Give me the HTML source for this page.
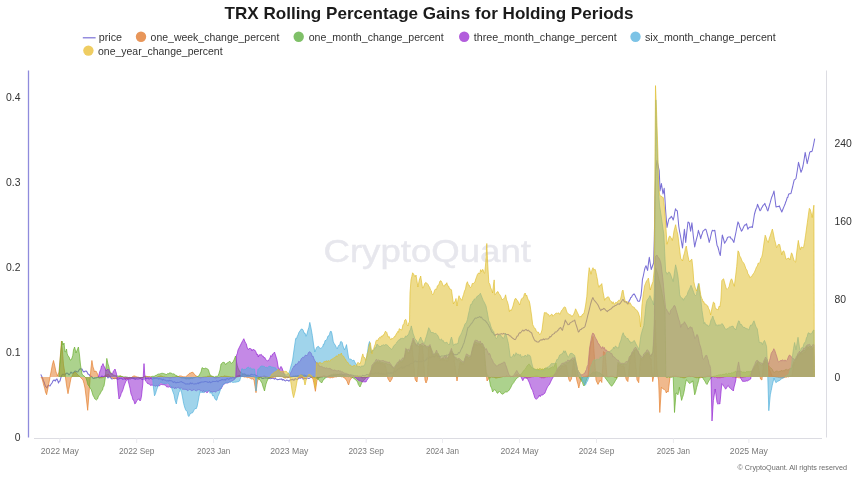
<!DOCTYPE html>
<html lang="en"><head><meta charset="utf-8"><title>TRX Rolling Percentage Gains for Holding Periods</title>
<style>
html,body{margin:0;padding:0;background:#fff;}
body{width:860px;height:482px;overflow:hidden;font-family:"Liberation Sans",sans-serif;}
svg{display:block;}
svg text{font-family:"Liberation Sans",sans-serif;}
.title{font-weight:700;font-size:16.6px;fill:#1b1b1b;}
.leg text{font-size:11.6px;fill:#333;}
.xl text{font-size:9.6px;fill:#7a7a7a;}
.yl text{font-size:10.4px;fill:#333;}
.wm{font-size:32px;fill:#e7e7ed;stroke:#e7e7ed;stroke-width:0.45px;}
.copy{font-size:7.6px;fill:#6a6a6a;}
</style></head><body>
<svg width="860" height="482" viewBox="0 0 860 482">
<rect width="860" height="482" fill="#ffffff"/>
<text class="title" x="224.5" y="19.2" textLength="409" lengthAdjust="spacingAndGlyphs">TRX Rolling Percentage Gains for Holding Periods</text>
<g class="leg">
<line x1="82.8" y1="37.8" x2="95.6" y2="37.8" stroke="#7a70d6" stroke-width="1.2"/>
<text x="98.7" y="41.2" textLength="23.3" lengthAdjust="spacingAndGlyphs">price</text>
<circle cx="141.0" cy="36.8" r="5.2" fill="#e8965a"/><text x="150.6" y="41.2" textLength="128.7" lengthAdjust="spacingAndGlyphs">one_week_change_percent</text>
<circle cx="298.7" cy="36.8" r="5.2" fill="#7fc068"/><text x="308.7" y="41.2" textLength="135.0" lengthAdjust="spacingAndGlyphs">one_month_change_percent</text>
<circle cx="464.2" cy="36.8" r="5.2" fill="#b25ddc"/><text x="473.7" y="41.2" textLength="143.0" lengthAdjust="spacingAndGlyphs">three_month_change_percent</text>
<circle cx="635.5" cy="36.8" r="5.2" fill="#7cc3e6"/><text x="645.0" y="41.2" textLength="130.7" lengthAdjust="spacingAndGlyphs">six_month_change_percent</text>
<circle cx="88.4" cy="50.6" r="5.2" fill="#efcd62"/><text x="98.0" y="55.0" textLength="124.6" lengthAdjust="spacingAndGlyphs">one_year_change_percent</text>
</g>
<text class="wm" x="323.5" y="262" textLength="207.5" lengthAdjust="spacingAndGlyphs">CryptoQuant</text>
<defs><filter id="soft" x="-2%" y="-2%" width="104%" height="104%"><feGaussianBlur stdDeviation="0.35"/></filter></defs>
<g class="plot" filter="url(#soft)">
<path d="M40.8,374.4L42.0,377.0L42.8,378.7L43.5,381.0L44.2,382.2L44.9,384.8L45.6,386.4L47.0,388.0L47.8,385.8L48.5,385.0L49.2,385.6L50.0,386.0L51.0,384.3L52.0,383.0L53.0,380.8L54.0,380.0L54.8,380.5L55.5,381.0L56.2,379.3L57.0,379.0L57.8,380.9L58.5,383.0L59.2,381.3L60.0,381.0L60.8,377.8L61.5,376.0L62.2,374.9L63.0,374.0L64.0,375.0L65.0,375.0L66.0,373.4L67.0,373.0L68.0,373.6L69.0,375.0L70.0,373.7L71.0,372.0L72.0,373.2L73.0,373.0L74.0,372.1L75.0,371.0L76.0,371.3L77.0,372.0L78.0,371.8L79.0,370.0L80.0,368.8L81.0,369.0L82.0,369.0L83.0,371.1L84.0,372.0L85.0,371.2L86.0,371.0L87.0,371.9L88.0,374.0L89.0,374.4L90.0,376.0L91.0,376.2L92.0,377.0L93.0,378.3L94.0,378.5L95.0,377.7L96.0,378.0L97.0,377.6L98.0,377.0L99.0,377.7L100.0,378.0L101.0,376.8L102.0,376.0L103.0,376.6L104.0,377.0L105.0,375.8L106.0,376.0L107.0,376.3L108.0,378.0L109.0,377.0L110.0,377.0L111.0,378.3L112.0,379.0L112.8,378.6L113.5,378.2L114.2,378.4L115.0,378.0L115.8,378.2L116.5,378.2L117.2,379.2L118.0,379.0L118.8,379.1L119.5,378.1L120.2,378.4L121.0,378.0L121.8,378.3L122.5,379.1L123.2,379.1L124.0,379.0L124.8,378.5L125.5,379.5L126.2,378.0L127.0,378.5L127.8,378.5L128.5,379.2L129.2,378.3L130.0,379.0L130.8,378.7L131.5,377.8L132.2,378.5L133.0,378.0L133.8,378.7L134.5,378.6L135.2,379.4L136.0,379.0L136.8,378.6L137.6,379.1L138.4,378.9L139.2,378.7L140.0,378.5L140.8,378.5L141.6,379.2L142.4,379.5L143.2,378.9L144.0,379.0L144.8,379.1L145.6,377.9L146.4,378.7L147.2,378.4L148.0,378.0L148.8,379.0L149.6,378.9L150.4,378.3L151.2,378.6L152.0,379.0L152.8,379.2L153.6,378.0L154.4,378.6L155.2,378.1L156.0,378.5L156.8,378.0L157.6,378.0L158.4,379.2L159.2,378.3L160.0,379.0L160.8,378.8L161.6,379.2L162.4,380.2L163.2,379.1L164.0,380.0L164.8,380.0L165.6,380.3L166.4,380.9L167.2,380.9L168.0,380.5L168.8,381.2L169.6,380.3L170.4,380.7L171.2,380.7L172.0,381.0L172.8,382.0L173.6,382.5L174.4,381.6L175.2,382.1L176.0,383.0L176.8,382.4L177.6,382.2L178.4,382.4L179.2,382.3L180.0,382.0L180.8,381.8L181.6,381.6L182.4,382.5L183.2,382.6L184.0,383.0L184.8,383.3L185.6,384.1L186.4,383.9L187.2,383.8L188.0,384.0L188.8,384.0L189.6,383.9L190.4,382.7L191.2,383.8L192.0,383.0L192.8,383.6L193.6,384.0L194.4,384.1L195.2,383.6L196.0,384.0L196.8,383.6L197.6,383.0L198.4,383.6L199.2,382.5L200.0,383.0L200.8,382.1L201.6,382.1L202.4,381.9L203.2,381.9L204.0,382.0L204.8,381.4L205.6,381.4L206.4,381.7L207.2,381.8L208.0,382.5L208.8,382.2L209.6,381.5L210.4,382.8L211.2,382.3L212.0,382.0L212.8,381.3L213.6,381.4L214.4,381.5L215.2,381.4L216.0,381.5L216.8,380.7L217.6,381.7L218.4,381.7L219.2,380.6L220.0,380.5L220.8,380.4L221.6,379.6L222.4,379.6L223.2,379.8L224.0,380.0L224.8,379.4L225.6,380.1L226.4,378.9L227.2,378.4L228.0,379.0L228.8,379.5L229.6,378.6L230.4,377.8L231.2,378.3L232.0,378.0L232.8,377.0L233.6,377.6L234.4,378.2L235.2,377.8L236.0,377.0L236.8,377.0L237.6,376.0L238.4,375.9L239.2,375.3L240.0,375.5L240.8,375.6L241.6,375.0L242.4,375.0L243.2,374.0L244.0,374.0L244.8,373.8L245.6,374.9L246.4,375.4L247.2,375.4L248.0,375.0L248.8,375.4L249.6,375.3L250.4,375.1L251.2,374.2L252.0,374.5L252.8,374.8L253.6,374.9L254.4,374.6L255.2,374.9L256.0,376.0L256.8,375.8L257.6,376.0L258.4,376.9L259.2,377.5L260.0,377.0L260.8,377.1L261.6,378.1L262.4,378.4L263.2,378.5L264.0,378.0L264.8,377.9L265.6,377.8L266.4,377.9L267.2,377.9L268.0,378.5L268.8,377.9L269.6,378.5L270.4,378.8L271.2,378.6L272.0,378.0L272.8,378.2L273.6,378.6L274.4,379.1L275.2,378.1L276.0,379.0L276.8,379.3L277.6,379.7L278.4,379.5L279.2,379.4L280.0,379.0L280.8,379.2L281.6,378.9L282.4,380.1L283.2,379.5L284.0,380.0L284.8,380.6L285.6,381.0L286.4,380.1L287.2,380.2L288.0,380.5L288.8,381.1L289.6,380.7L290.4,379.7L291.2,379.5L292.0,380.0L292.8,379.2L293.6,380.2L294.4,379.9L295.2,378.6L296.0,379.0L296.8,379.3L297.6,379.4L298.4,378.7L299.2,378.0L300.0,378.0L300.8,378.2L301.6,377.6L302.4,377.5L303.2,379.2L304.0,378.5L304.8,378.6L305.6,378.3L306.4,378.9L307.2,378.0L308.0,378.0L308.8,378.5L309.6,378.3L310.4,377.2L311.2,377.2L312.0,377.5L312.8,377.3L313.6,377.3L314.4,377.9L315.2,377.5L316.0,378.0L316.8,377.7L317.6,377.0L318.4,378.1L319.2,377.0L320.0,377.0L320.8,376.7L321.6,376.7L322.4,377.0L323.2,376.1L324.0,376.0L324.8,376.9L325.6,376.4L326.4,376.7L327.2,376.8L328.0,377.0L328.8,376.0L329.6,376.5L330.4,375.9L331.2,375.4L332.0,376.0L332.8,376.3L333.6,375.1L334.4,375.4L335.2,375.6L336.0,375.0L336.8,374.9L337.6,374.3L338.4,374.4L339.2,374.3L340.0,374.0L340.8,374.7L341.6,373.8L342.4,374.7L343.2,374.4L344.0,375.0L344.8,374.5L345.6,375.2L346.4,374.7L347.2,374.7L348.0,374.5L348.8,375.0L349.6,375.4L350.4,374.7L351.2,375.1L352.0,375.0L352.8,375.2L353.6,375.4L354.4,375.9L355.2,375.7L356.0,376.0L356.8,376.1L357.6,376.0L358.4,376.7L359.2,376.3L360.0,376.0L360.8,376.5L361.6,376.5L362.4,375.3L363.2,375.7L364.0,375.5L364.8,376.1L365.6,375.8L366.4,374.6L367.2,374.5L368.0,375.0L368.8,374.7L369.6,373.9L370.4,374.0L371.2,373.5L372.0,374.0L372.8,374.1L373.6,374.1L374.4,374.0L375.2,372.6L376.0,373.0L376.8,373.4L377.6,373.5L378.4,372.7L379.2,374.0L380.0,373.5L380.8,374.3L381.6,373.3L382.4,374.5L383.2,373.7L384.0,374.0L384.8,373.8L385.6,374.4L386.4,373.9L387.2,372.7L388.0,373.0L388.8,373.0L389.6,373.2L390.4,373.0L391.2,372.9L392.0,373.5L392.8,372.7L393.6,372.9L394.4,371.2L395.2,371.6L396.0,371.0L396.8,370.3L397.6,369.0L398.4,368.9L399.2,368.8L400.0,368.0L400.8,367.8L401.6,366.9L402.4,368.2L403.2,367.7L404.0,367.0L404.8,367.6L405.6,366.0L406.4,366.0L407.2,365.5L408.0,366.0L408.8,365.8L409.6,364.4L410.4,363.6L411.2,363.5L412.0,363.0L412.8,363.3L413.6,362.7L414.4,361.4L415.2,360.8L416.0,361.0L416.8,361.9L417.6,361.5L418.4,361.9L419.2,361.1L420.0,362.0L420.8,361.1L421.6,361.9L422.4,361.3L423.2,360.5L424.0,361.0L424.8,361.1L425.6,360.0L426.4,359.7L427.2,357.9L428.0,358.0L428.8,358.4L429.6,356.9L430.4,358.0L431.2,357.1L432.0,357.0L432.8,356.5L433.6,356.7L434.4,357.1L435.2,355.8L436.0,356.0L436.8,355.6L437.6,356.4L438.4,356.2L439.2,356.2L440.0,357.0L440.8,356.3L441.6,355.9L442.4,355.9L443.2,355.9L444.0,356.0L444.8,355.5L445.6,356.0L446.4,355.1L447.2,355.2L448.0,355.0L448.8,354.3L449.6,354.4L450.4,353.6L451.2,353.8L452.0,354.0L452.8,353.4L453.6,354.8L454.4,354.7L455.2,354.3L456.0,355.0L456.8,354.4L457.6,354.5L458.4,352.6L459.2,353.1L460.0,352.0L460.8,350.1L461.6,348.4L462.4,347.1L463.2,344.6L464.0,343.0L464.8,339.9L465.6,337.1L466.4,334.5L467.2,330.3L468.0,327.5L468.8,327.1L469.6,326.0L470.4,325.0L471.2,323.7L472.0,323.0L472.8,321.8L473.5,320.3L474.3,319.4L475.0,318.3L475.8,318.0L476.7,318.2L477.6,317.3L478.5,317.5L479.2,316.8L479.9,316.6L480.7,317.7L481.4,317.0L482.3,318.6L483.1,319.3L484.0,320.0L484.8,320.4L485.5,321.0L486.2,321.8L487.0,322.8L487.7,324.0L488.4,324.7L489.1,326.4L489.8,327.4L490.5,329.0L491.3,330.9L492.1,332.2L492.8,332.7L493.6,333.4L494.4,335.0L495.1,335.6L495.8,334.5L496.6,334.5L497.3,333.8L498.0,334.5L498.8,334.2L499.6,334.3L500.4,334.2L501.2,333.6L502.0,334.0L502.8,334.1L503.6,333.4L504.4,333.9L505.2,333.7L506.0,334.5L506.8,334.6L507.6,334.4L508.4,334.6L509.2,335.4L510.0,336.0L510.7,336.1L511.4,337.2L512.1,337.6L512.9,338.5L513.6,338.8L514.3,339.4L515.0,339.6L515.7,339.1L516.5,337.2L517.2,336.0L518.0,335.9L518.7,334.0L519.5,332.7L520.4,332.9L521.2,332.0L522.0,331.0L522.8,330.0L523.6,330.9L524.4,330.7L525.2,329.9L526.0,329.4L526.8,330.2L527.5,330.7L528.2,330.0L529.0,331.0L529.9,331.7L530.8,332.3L531.7,333.0L532.6,335.9L533.6,338.2L534.5,340.0L535.2,340.9L535.9,340.9L536.6,341.8L537.3,341.9L538.0,342.0L538.8,341.9L539.6,340.8L540.4,340.0L541.2,339.8L542.0,340.0L542.8,339.5L543.5,338.9L544.2,339.8L545.0,339.0L545.7,339.0L546.4,339.1L547.1,339.0L547.8,339.0L548.5,338.7L549.2,337.9L549.9,336.4L550.6,337.0L551.3,336.1L552.0,335.0L552.8,334.4L553.6,333.9L554.4,333.5L555.2,331.9L556.0,332.0L556.8,331.7L557.7,330.3L558.5,330.0L559.2,328.5L560.0,328.0L560.7,327.5L561.6,329.3L562.5,330.3L563.2,327.2L564.0,325.0L565.3,320.0L566.0,321.6L566.7,322.5L568.0,324.7L569.0,324.6L570.0,323.0L571.0,322.4L571.9,321.9L572.6,321.2L573.3,320.9L574.0,320.8L574.7,320.0L575.6,323.4L576.5,326.0L577.5,329.2L578.4,332.0L579.1,331.6L579.8,330.0L580.5,329.5L581.2,329.4L582.1,328.3L583.0,328.0L584.0,327.6L585.0,326.5L585.8,323.4L586.5,321.0L587.8,315.3L588.5,312.8L589.2,310.0L590.6,304.0L591.8,300.0L592.8,297.6L594.0,300.0L595.2,301.3L596.6,303.0L598.0,305.0L599.4,308.0L600.8,310.7L601.8,309.3L602.7,309.5L603.7,308.4L604.6,308.8L606.0,310.5L607.4,311.6L608.1,310.5L608.8,310.5L609.5,309.5L610.3,309.3L611.2,308.7L612.0,307.9L612.8,306.9L613.7,306.7L614.5,306.0L615.2,305.6L616.0,305.3L616.7,305.0L617.6,303.9L618.5,304.0L619.5,304.2L620.4,303.2L621.8,301.0L622.5,299.8L623.2,299.5L624.0,301.1L624.7,301.9L625.5,302.0L626.3,301.9L627.1,303.3L627.9,304.0L629.3,300.5L630.0,299.6L630.7,297.6L631.5,297.3L632.3,295.5L633.1,294.6L634.0,293.9L635.0,295.3L636.0,297.5L636.7,298.3L637.5,300.7L638.2,301.3L639.6,301.2L641.0,295.7L641.8,288.0L642.4,279.7L643.3,276.0L644.5,270.0L645.2,267.4L646.0,265.7L646.8,268.2L647.6,270.4L648.5,263.0L649.3,257.3L650.3,264.0L651.2,269.5L652.5,266.0L653.6,263.0L654.3,240.0L655.0,200.0L655.8,170.0L657.0,160.3L658.2,166.0L659.2,170.5L659.7,182.0L660.0,191.0L661.4,183.6L663.0,193.9L664.2,188.3L665.0,200.0L665.7,211.6L667.0,227.5L668.0,222.7L668.9,219.0L669.7,218.1L670.5,217.9L671.3,216.3L672.2,217.6L673.2,220.0L674.0,216.8L674.7,212.5L675.5,208.8L676.4,210.4L677.3,210.7L678.8,226.5L679.6,231.6L680.5,236.0L682.5,248.0L683.5,238.0L684.4,229.3L685.7,242.4L686.8,232.0L688.0,222.0L689.3,223.0L690.6,231.2L691.9,222.8L693.3,236.0L694.7,247.0L695.6,242.6L696.5,239.0L697.5,235.3L698.4,230.3L699.2,233.1L699.9,235.1L700.7,238.7L701.5,235.4L702.2,233.7L703.0,231.2L703.7,230.6L704.5,229.9L705.2,229.2L705.9,229.3L706.7,231.9L707.5,235.0L708.4,238.4L709.2,242.4L710.0,239.7L710.8,236.0L711.6,232.4L712.4,230.3L713.2,230.7L714.0,230.8L714.8,230.3L717.0,245.2L717.9,247.0L718.7,250.0L719.5,253.4L720.3,255.5L721.3,245.0L722.3,235.0L723.5,239.0L724.6,243.3L725.5,241.8L726.5,240.2L727.4,237.7L728.1,237.1L728.8,237.0L729.5,236.9L730.2,236.8L731.1,238.7L732.0,239.0L733.0,240.8L733.9,242.4L734.6,238.7L735.3,235.4L736.0,232.0L737.0,226.6L738.0,221.9L738.9,223.7L739.7,227.0L740.5,228.5L741.4,231.2L742.3,230.1L743.2,228.0L744.1,226.0L745.0,224.7L745.8,224.9L746.5,223.7L747.9,229.3L748.6,228.1L749.3,227.4L750.0,227.0L750.8,227.2L751.6,226.8L752.4,227.5L753.4,221.0L754.4,214.5L755.2,211.5L756.0,209.0L756.8,207.4L757.5,204.3L758.8,207.5L760.0,210.8L760.8,210.0L761.5,208.0L762.2,207.2L763.0,205.5L764.0,204.7L764.9,203.4L765.6,205.9L766.4,207.0L767.1,209.7L767.9,210.9L768.7,208.0L769.5,205.0L770.2,202.7L771.0,199.7L771.8,196.9L772.5,195.5L773.2,193.6L774.0,191.0L775.0,199.0L776.0,207.0L776.9,206.7L777.7,206.5L778.5,206.6L779.3,205.9L780.5,209.0L781.8,212.0L783.0,209.0L784.3,205.9L785.0,204.3L785.7,202.0L786.4,200.5L787.1,197.8L787.8,197.3L788.5,194.7L789.3,193.7L790.2,193.8L791.0,193.4L791.9,189.7L792.7,186.5L793.5,182.8L794.3,179.7L795.1,179.5L796.0,178.5L797.3,170.5L798.5,162.3L799.7,167.0L801.0,172.3L802.0,169.9L803.0,166.0L804.2,159.0L805.2,152.4L806.2,158.0L807.2,163.6L808.5,158.0L809.7,152.4L810.5,151.5L811.4,151.7L812.2,151.0L813.5,145.0L814.7,138.7" fill="none" stroke="#7a70d6" stroke-width="1.05" stroke-linejoin="round"/>
<path d="M41.0,377.0L41.0,377.0L41.8,378.4L42.5,380.0L43.2,383.1L44.0,386.0L44.8,388.8L45.5,392.0L46.6,394.7L48.0,388.0L48.8,383.6L49.5,380.0L50.2,375.8L51.0,372.0L52.3,365.0L53.5,360.5L54.8,366.0L56.0,372.0L56.8,373.7L57.5,376.0L58.2,374.3L59.0,372.0L60.0,360.0L61.5,341.0L62.5,352.0L63.5,365.0L65.0,374.0L66.5,385.0L67.2,389.3L68.0,393.7L68.8,389.3L69.5,386.0L70.2,382.4L71.0,378.0L72.0,376.3L73.0,374.0L74.0,373.0L75.0,372.0L76.0,372.6L77.0,374.0L78.0,374.8L79.0,376.0L80.0,376.8L81.0,378.0L82.0,378.9L83.0,380.0L84.0,383.5L85.0,388.0L86.5,400.0L87.7,410.3L88.8,396.0L90.0,380.0L91.0,368.0L91.9,360.5L93.0,367.0L93.8,369.1L94.5,372.0L95.2,371.2L96.0,371.0L96.8,372.6L97.5,374.0L98.2,375.8L99.0,377.0L99.8,377.4L100.5,377.5L101.2,377.7L102.0,378.0L102.8,377.5L103.5,376.9L104.2,376.4L105.0,376.0L105.8,375.2L106.5,374.8L107.2,374.9L108.0,374.0L108.8,374.5L109.5,375.5L110.2,376.3L111.0,377.0L111.8,377.7L112.5,377.8L113.2,378.3L114.0,379.0L114.8,378.6L115.5,378.4L116.2,378.2L117.0,378.0L117.8,377.8L118.5,377.2L119.2,376.7L120.0,376.0L120.8,376.0L121.5,376.2L122.2,376.9L123.0,377.0L123.8,377.7L124.5,378.0L125.2,378.6L126.0,379.0L126.8,378.4L127.6,378.5L128.4,378.7L129.2,378.4L130.0,378.0L130.8,377.8L131.6,377.4L132.4,376.7L133.2,376.2L134.0,376.0L134.8,376.0L135.6,376.4L136.4,376.7L137.2,377.0L138.0,377.0L138.8,377.3L139.6,377.5L140.4,377.8L141.2,377.8L142.0,378.0L142.8,377.6L143.6,377.0L144.4,376.9L145.2,376.2L146.0,376.0L146.8,376.5L147.6,376.5L148.4,376.5L149.2,376.6L150.0,377.0L150.8,377.0L151.7,377.4L152.5,377.6L153.3,377.4L154.2,377.6L155.0,378.0L155.8,377.7L156.7,377.4L157.5,376.9L158.3,376.5L159.2,376.4L160.0,376.0L160.8,375.9L161.7,376.2L162.5,376.5L163.3,376.9L164.2,376.9L165.0,377.0L165.8,377.4L166.7,377.3L167.5,377.4L168.3,377.5L169.2,378.1L170.0,378.0L170.8,378.0L171.7,377.6L172.5,377.2L173.3,377.3L174.2,377.3L175.0,377.0L175.8,376.8L176.7,376.5L177.5,376.6L178.3,376.6L179.2,376.0L180.0,376.0L180.8,375.9L181.7,376.2L182.5,376.5L183.3,376.8L184.2,376.7L185.0,377.0L185.8,376.7L186.5,376.1L187.2,375.5L188.0,375.0L189.0,373.7L190.0,373.0L191.0,373.0L192.0,372.0L193.0,372.6L194.0,373.5L195.0,375.0L196.0,376.0L196.8,376.2L197.6,376.7L198.4,377.3L199.2,377.5L200.0,378.0L200.8,378.1L201.7,377.7L202.5,377.3L203.3,377.2L204.2,377.1L205.0,377.0L205.8,376.9L206.7,376.9L207.5,376.3L208.3,376.3L209.2,376.0L210.0,376.0L210.8,376.6L211.7,376.5L212.5,376.8L213.3,377.1L214.2,377.6L215.0,378.0L215.8,378.1L216.7,377.9L217.5,377.6L218.3,377.6L219.2,377.4L220.0,377.0L220.8,376.7L221.7,376.5L222.5,376.7L223.3,376.5L224.2,375.9L225.0,376.0L225.8,376.3L226.7,376.3L227.5,376.4L228.3,376.6L229.2,376.7L230.0,377.0L230.8,376.9L231.7,377.2L232.5,377.4L233.3,377.9L234.2,377.6L235.0,378.0L235.8,377.9L236.7,377.2L237.5,376.9L238.3,376.8L239.2,376.5L240.0,376.0L240.8,376.1L241.7,376.1L242.5,376.5L243.3,376.6L244.2,377.1L245.0,377.0L245.8,377.0L246.7,377.3L247.5,377.7L248.3,377.4L249.2,377.8L250.0,378.0L250.8,378.6L251.6,379.0L252.4,378.8L253.2,379.2L254.0,380.0L256.0,392.7L257.5,381.0L258.3,379.3L259.2,378.6L260.0,377.0L260.8,376.7L261.7,376.8L262.5,376.7L263.3,376.2L264.2,376.0L265.0,376.0L265.8,376.6L266.7,376.7L267.5,376.9L268.3,377.5L269.2,377.6L270.0,378.0L270.8,377.7L271.7,377.4L272.5,377.6L273.3,377.6L274.2,377.2L275.0,377.0L275.8,377.1L276.7,376.4L277.5,376.4L278.3,376.3L279.2,376.4L280.0,376.0L280.8,376.6L281.7,376.6L282.5,376.9L283.3,377.3L284.2,377.7L285.0,378.0L285.8,378.1L286.7,377.5L287.5,377.7L288.3,377.5L289.2,377.3L290.0,377.0L290.8,377.0L291.7,376.7L292.5,376.4L293.3,376.2L294.2,376.1L295.0,376.0L295.8,376.5L296.7,376.4L297.5,376.8L298.3,377.5L299.2,377.5L300.0,378.0L300.8,377.6L301.7,377.4L302.5,377.5L303.3,377.2L304.2,377.4L305.0,377.0L305.8,377.0L306.7,376.9L307.5,376.4L308.3,376.1L309.2,375.9L310.0,376.0L310.8,376.7L311.5,377.6L312.2,378.2L313.0,379.0L313.8,382.8L314.6,387.1L315.4,391.3L317.0,380.0L317.8,379.3L318.5,378.6L319.2,377.9L320.0,377.0L320.8,377.0L321.7,376.8L322.5,376.3L323.3,376.5L324.2,376.0L325.0,376.0L325.8,376.4L326.7,376.6L327.5,377.1L328.3,377.2L329.2,377.5L330.0,378.0L330.8,377.7L331.7,377.5L332.5,377.7L333.3,377.4L334.2,377.1L335.0,377.0L335.8,376.8L336.7,376.9L337.5,376.5L338.3,376.2L339.2,376.4L340.0,376.0L340.8,376.4L341.7,376.9L342.5,376.8L343.3,377.3L344.2,377.9L345.0,378.0L346.0,379.8L347.0,381.0L347.8,383.5L348.6,385.0L350.0,380.0L350.8,378.9L351.5,378.4L352.2,377.5L353.0,377.0L353.8,376.7L354.7,376.9L355.5,376.5L356.3,376.6L357.2,376.1L358.0,376.0L358.8,376.5L359.7,376.6L360.5,376.9L361.3,377.5L362.2,377.9L363.0,378.0L363.8,377.6L364.7,377.7L365.5,377.6L366.3,377.2L367.2,377.1L368.0,377.0L368.8,375.0L369.7,373.3L370.5,371.6L371.3,370.3L372.2,368.7L373.0,366.8L373.8,365.4L374.5,365.0L375.2,363.2L376.0,363.4L376.8,362.7L377.5,362.7L378.2,363.3L379.0,363.2L379.8,362.7L380.5,363.6L381.2,363.3L382.0,363.9L382.8,363.4L383.5,364.2L384.2,364.9L385.0,364.5L385.8,368.2L386.5,371.2L387.2,375.1L388.0,379.0L389.0,380.4L390.0,382.0L391.0,380.5L392.0,379.0L393.0,374.8L394.0,370.4L394.8,368.8L395.5,368.3L396.2,366.8L397.0,366.3L397.8,365.7L398.5,364.3L399.2,363.5L400.0,363.1L400.8,362.3L401.5,362.5L402.2,361.7L403.0,361.9L403.8,361.1L404.5,358.1L405.2,354.2L406.0,351.6L406.8,352.5L407.5,353.0L408.2,352.9L409.0,353.8L409.8,351.9L410.5,350.5L411.2,349.0L412.0,345.2L415.0,379.0L416.0,381.0L417.0,382.0L419.5,346.9L420.2,346.4L421.0,346.7L421.8,345.9L422.5,347.0L425.0,380.0L426.0,383.0L426.8,381.2L427.5,379.0L428.5,348.5L429.2,347.1L430.0,347.5L430.8,348.2L431.5,352.1L432.2,355.3L433.0,356.0L433.8,356.0L434.5,356.4L435.2,356.1L436.0,353.9L436.8,354.1L437.5,355.0L438.2,357.6L439.0,358.0L439.8,359.2L440.5,360.6L441.2,359.5L442.0,360.2L442.8,358.8L443.5,359.8L444.2,360.0L445.0,359.9L445.8,360.5L446.5,360.3L447.2,361.2L448.0,360.1L448.8,357.0L449.5,356.3L450.2,354.8L451.0,352.5L451.8,352.9L452.5,354.1L453.2,356.4L454.0,358.7L457.0,381.0L460.0,362.3L460.8,362.2L461.5,363.6L462.2,363.7L463.0,364.8L463.8,363.7L464.5,362.5L465.2,361.4L466.0,358.1L466.8,356.8L467.5,357.7L468.2,358.2L469.0,358.8L469.8,359.5L470.5,358.6L471.2,357.2L472.0,352.9L472.8,349.4L473.5,347.9L474.2,344.7L475.0,343.8L475.8,345.4L476.5,344.1L477.2,345.8L478.0,344.4L478.8,344.5L479.5,344.7L480.2,343.8L481.0,345.8L481.8,347.8L482.5,347.0L483.2,347.5L484.0,348.8L487.0,381.0L488.0,379.8L489.0,378.0L489.8,377.8L490.5,377.7L491.2,377.1L492.0,377.0L492.8,377.3L493.7,377.2L494.5,377.4L495.3,377.9L496.2,378.0L497.0,378.0L497.8,377.6L498.7,377.5L499.5,377.4L500.3,377.3L501.2,377.1L502.0,377.0L502.8,376.6L503.7,376.5L504.5,376.6L505.3,376.6L506.2,375.9L507.0,376.0L507.8,376.2L508.5,376.4L509.2,376.1L510.0,376.5L510.8,376.7L511.5,376.5L512.2,376.3L513.0,376.5L513.8,376.6L514.5,376.5L515.2,375.6L516.0,374.7L516.8,374.7L517.5,374.5L518.2,375.3L519.0,376.5L519.8,376.3L520.5,376.3L521.2,376.1L522.0,376.0L522.8,376.4L523.7,376.6L524.5,377.0L525.3,377.1L526.2,377.7L527.0,378.0L527.8,377.8L528.7,377.5L529.5,377.6L530.3,377.5L531.2,377.1L532.0,377.0L532.8,376.7L533.7,376.7L534.5,376.3L535.3,376.1L536.2,376.1L537.0,376.0L537.8,376.1L538.7,376.6L539.5,377.0L540.3,377.1L541.2,377.7L542.0,378.0L542.8,377.6L543.7,377.8L544.5,377.7L545.3,377.3L546.2,376.9L547.0,377.0L547.8,376.8L548.7,376.6L549.5,376.8L550.3,376.1L551.2,376.4L552.0,376.0L552.8,375.8L553.7,375.1L554.5,374.7L555.3,373.7L556.2,373.8L557.0,372.9L557.8,371.6L558.5,370.3L559.2,370.1L560.0,368.6L560.8,368.6L561.5,367.3L562.2,366.3L563.0,366.3L563.8,366.5L564.5,365.6L565.2,366.1L566.0,364.9L566.8,368.0L567.5,372.3L568.2,376.4L569.0,380.0L570.0,381.6L570.8,380.0L571.5,379.0L573.5,361.0L574.4,366.7L575.2,370.7L576.1,376.2L577.0,381.0L577.9,384.0L578.8,388.0L579.6,384.5L580.5,381.0L581.3,380.0L582.2,378.1L583.0,377.0L583.8,376.7L584.7,376.7L585.5,376.4L586.3,376.1L587.2,376.0L588.0,376.0L590.0,348.7L590.8,343.8L591.5,341.1L592.2,340.1L593.0,336.4L596.0,380.0L597.0,382.4L598.0,384.4L599.0,382.6L600.0,380.0L600.9,380.9L601.8,382.5L603.5,351.4L604.2,352.8L605.0,352.4L607.0,377.0L607.8,376.6L608.7,376.7L609.5,376.6L610.3,376.3L611.2,376.4L612.0,376.0L612.8,376.4L613.7,376.7L614.5,377.2L615.3,377.1L616.2,378.0L617.0,378.0L618.0,363.8L618.8,364.7L619.5,365.1L620.2,365.1L621.0,365.6L621.8,366.4L622.5,366.1L623.2,365.8L624.0,366.4L626.0,379.0L627.0,380.7L627.9,381.6L630.0,359.0L630.8,357.7L631.5,356.0L632.2,354.3L633.0,353.4L633.8,353.3L634.5,351.6L637.0,380.0L637.9,381.3L638.7,382.7L640.5,358.2L641.2,358.3L642.0,360.2L642.8,359.7L643.5,358.0L644.2,355.6L645.0,355.9L645.8,356.0L646.5,354.1L647.2,353.1L648.0,353.7L648.8,355.3L649.5,356.0L650.2,358.6L651.0,358.5L652.7,381.6L654.0,375.0L654.6,350.0L655.3,320.0L656.0,345.0L657.0,370.0L658.0,377.0L658.6,380.0L659.8,412.5L661.4,387.3L662.2,388.1L663.1,388.9L663.9,389.2L664.7,390.1L665.5,390.6L666.3,393.0L667.2,391.4L668.2,392.0L670.0,377.0L670.8,376.6L671.6,376.7L672.4,376.4L673.2,376.2L674.0,376.0L674.8,376.4L675.7,376.1L676.5,376.3L677.3,376.7L678.2,376.6L679.0,377.0L679.8,376.9L680.7,377.3L681.5,377.3L682.3,377.6L683.2,377.7L684.0,378.0L684.8,377.7L685.7,377.4L686.5,376.9L687.3,376.7L688.2,376.3L689.0,376.0L689.8,375.9L690.7,376.6L691.5,376.4L692.3,376.5L693.2,376.6L694.0,377.0L694.8,377.2L695.7,377.5L696.5,377.7L697.3,377.6L698.2,377.7L699.0,378.0L699.8,377.5L700.7,377.8L701.5,377.5L702.3,377.3L703.2,377.2L704.0,377.0L704.8,376.8L705.7,376.9L706.5,376.6L707.3,376.2L708.2,376.4L709.0,376.0L709.8,375.9L710.7,376.4L711.5,376.4L712.3,376.5L713.2,376.6L714.0,377.0L714.8,377.3L715.7,377.1L716.5,377.5L717.3,377.9L718.2,377.6L719.0,378.0L719.8,377.7L720.7,377.7L721.5,377.5L722.3,377.4L723.2,377.3L724.0,377.0L724.8,376.7L725.7,376.6L726.5,376.4L727.3,376.1L728.2,376.4L729.0,376.0L729.8,376.3L730.7,376.5L731.5,376.2L732.3,376.9L733.2,377.0L734.0,377.0L734.8,377.1L735.7,377.5L736.5,377.5L737.3,377.5L738.2,377.6L739.0,378.0L739.8,377.7L740.7,377.4L741.5,377.4L742.3,377.5L743.2,377.3L744.0,377.0L744.8,377.0L745.7,376.8L746.5,376.4L747.3,376.4L748.2,376.1L749.0,376.0L749.8,375.3L750.6,374.2L751.4,373.0L752.2,372.5L753.0,371.4L753.8,370.4L754.5,368.1L755.2,366.2L756.0,365.3L756.8,365.1L757.5,363.3L758.2,366.4L759.0,370.9L759.8,374.9L760.5,379.0L761.9,380.0L763.5,364.8L764.2,363.6L765.0,361.4L765.8,362.8L766.5,362.1L767.2,364.4L768.0,365.7L768.8,367.4L769.6,370.3L770.4,371.7L771.2,373.7L772.0,376.0L772.8,376.4L773.7,376.4L774.5,376.6L775.3,376.8L776.2,377.1L777.0,377.0L777.8,377.2L778.7,377.5L779.5,377.6L780.3,377.9L781.2,377.8L782.0,378.0L782.8,378.0L783.7,377.7L784.5,377.4L785.3,377.2L786.2,377.2L787.0,377.0L787.8,376.6L788.7,376.9L789.5,376.3L790.3,376.1L791.2,375.9L792.0,376.0L794.0,362.4L794.8,362.9L795.5,361.4L796.2,359.8L797.0,358.8L797.8,356.5L798.5,356.2L799.2,354.2L800.0,355.0L800.8,353.0L801.5,354.0L802.2,354.1L803.0,353.0L803.8,352.9L804.5,352.0L805.2,351.8L806.0,350.3L806.8,350.1L807.5,348.3L808.2,346.9L809.0,348.3L809.8,349.0L810.5,349.2L811.2,348.7L812.0,349.1L812.8,349.5L813.5,347.9L813.9,376.0L814.3,377.0L814.3,377.0Z" fill="#e4802e" fill-opacity="0.55"/>
<path d="M41.0,377.0L41.8,378.4L42.5,380.0L43.2,383.1L44.0,386.0L44.8,388.8L45.5,392.0L46.6,394.7L48.0,388.0L48.8,383.6L49.5,380.0L50.2,375.8L51.0,372.0L52.3,365.0L53.5,360.5L54.8,366.0L56.0,372.0L56.8,373.7L57.5,376.0L58.2,374.3L59.0,372.0L60.0,360.0L61.5,341.0L62.5,352.0L63.5,365.0L65.0,374.0L66.5,385.0L67.2,389.3L68.0,393.7L68.8,389.3L69.5,386.0L70.2,382.4L71.0,378.0L72.0,376.3L73.0,374.0L74.0,373.0L75.0,372.0L76.0,372.6L77.0,374.0L78.0,374.8L79.0,376.0L80.0,376.8L81.0,378.0L82.0,378.9L83.0,380.0L84.0,383.5L85.0,388.0L86.5,400.0L87.7,410.3L88.8,396.0L90.0,380.0L91.0,368.0L91.9,360.5L93.0,367.0L93.8,369.1L94.5,372.0L95.2,371.2L96.0,371.0L96.8,372.6L97.5,374.0L98.2,375.8L99.0,377.0L99.8,377.4L100.5,377.5L101.2,377.7L102.0,378.0L102.8,377.5L103.5,376.9L104.2,376.4L105.0,376.0L105.8,375.2L106.5,374.8L107.2,374.9L108.0,374.0L108.8,374.5L109.5,375.5L110.2,376.3L111.0,377.0L111.8,377.7L112.5,377.8L113.2,378.3L114.0,379.0L114.8,378.6L115.5,378.4L116.2,378.2L117.0,378.0L117.8,377.8L118.5,377.2L119.2,376.7L120.0,376.0L120.8,376.0L121.5,376.2L122.2,376.9L123.0,377.0L123.8,377.7L124.5,378.0L125.2,378.6L126.0,379.0L126.8,378.4L127.6,378.5L128.4,378.7L129.2,378.4L130.0,378.0L130.8,377.8L131.6,377.4L132.4,376.7L133.2,376.2L134.0,376.0L134.8,376.0L135.6,376.4L136.4,376.7L137.2,377.0L138.0,377.0L138.8,377.3L139.6,377.5L140.4,377.8L141.2,377.8L142.0,378.0L142.8,377.6L143.6,377.0L144.4,376.9L145.2,376.2L146.0,376.0L146.8,376.5L147.6,376.5L148.4,376.5L149.2,376.6L150.0,377.0L150.8,377.0L151.7,377.4L152.5,377.6L153.3,377.4L154.2,377.6L155.0,378.0L155.8,377.7L156.7,377.4L157.5,376.9L158.3,376.5L159.2,376.4L160.0,376.0L160.8,375.9L161.7,376.2L162.5,376.5L163.3,376.9L164.2,376.9L165.0,377.0L165.8,377.4L166.7,377.3L167.5,377.4L168.3,377.5L169.2,378.1L170.0,378.0L170.8,378.0L171.7,377.6L172.5,377.2L173.3,377.3L174.2,377.3L175.0,377.0L175.8,376.8L176.7,376.5L177.5,376.6L178.3,376.6L179.2,376.0L180.0,376.0L180.8,375.9L181.7,376.2L182.5,376.5L183.3,376.8L184.2,376.7L185.0,377.0L185.8,376.7L186.5,376.1L187.2,375.5L188.0,375.0L189.0,373.7L190.0,373.0L191.0,373.0L192.0,372.0L193.0,372.6L194.0,373.5L195.0,375.0L196.0,376.0L196.8,376.2L197.6,376.7L198.4,377.3L199.2,377.5L200.0,378.0L200.8,378.1L201.7,377.7L202.5,377.3L203.3,377.2L204.2,377.1L205.0,377.0L205.8,376.9L206.7,376.9L207.5,376.3L208.3,376.3L209.2,376.0L210.0,376.0L210.8,376.6L211.7,376.5L212.5,376.8L213.3,377.1L214.2,377.6L215.0,378.0L215.8,378.1L216.7,377.9L217.5,377.6L218.3,377.6L219.2,377.4L220.0,377.0L220.8,376.7L221.7,376.5L222.5,376.7L223.3,376.5L224.2,375.9L225.0,376.0L225.8,376.3L226.7,376.3L227.5,376.4L228.3,376.6L229.2,376.7L230.0,377.0L230.8,376.9L231.7,377.2L232.5,377.4L233.3,377.9L234.2,377.6L235.0,378.0L235.8,377.9L236.7,377.2L237.5,376.9L238.3,376.8L239.2,376.5L240.0,376.0L240.8,376.1L241.7,376.1L242.5,376.5L243.3,376.6L244.2,377.1L245.0,377.0L245.8,377.0L246.7,377.3L247.5,377.7L248.3,377.4L249.2,377.8L250.0,378.0L250.8,378.6L251.6,379.0L252.4,378.8L253.2,379.2L254.0,380.0L256.0,392.7L257.5,381.0L258.3,379.3L259.2,378.6L260.0,377.0L260.8,376.7L261.7,376.8L262.5,376.7L263.3,376.2L264.2,376.0L265.0,376.0L265.8,376.6L266.7,376.7L267.5,376.9L268.3,377.5L269.2,377.6L270.0,378.0L270.8,377.7L271.7,377.4L272.5,377.6L273.3,377.6L274.2,377.2L275.0,377.0L275.8,377.1L276.7,376.4L277.5,376.4L278.3,376.3L279.2,376.4L280.0,376.0L280.8,376.6L281.7,376.6L282.5,376.9L283.3,377.3L284.2,377.7L285.0,378.0L285.8,378.1L286.7,377.5L287.5,377.7L288.3,377.5L289.2,377.3L290.0,377.0L290.8,377.0L291.7,376.7L292.5,376.4L293.3,376.2L294.2,376.1L295.0,376.0L295.8,376.5L296.7,376.4L297.5,376.8L298.3,377.5L299.2,377.5L300.0,378.0L300.8,377.6L301.7,377.4L302.5,377.5L303.3,377.2L304.2,377.4L305.0,377.0L305.8,377.0L306.7,376.9L307.5,376.4L308.3,376.1L309.2,375.9L310.0,376.0L310.8,376.7L311.5,377.6L312.2,378.2L313.0,379.0L313.8,382.8L314.6,387.1L315.4,391.3L317.0,380.0L317.8,379.3L318.5,378.6L319.2,377.9L320.0,377.0L320.8,377.0L321.7,376.8L322.5,376.3L323.3,376.5L324.2,376.0L325.0,376.0L325.8,376.4L326.7,376.6L327.5,377.1L328.3,377.2L329.2,377.5L330.0,378.0L330.8,377.7L331.7,377.5L332.5,377.7L333.3,377.4L334.2,377.1L335.0,377.0L335.8,376.8L336.7,376.9L337.5,376.5L338.3,376.2L339.2,376.4L340.0,376.0L340.8,376.4L341.7,376.9L342.5,376.8L343.3,377.3L344.2,377.9L345.0,378.0L346.0,379.8L347.0,381.0L347.8,383.5L348.6,385.0L350.0,380.0L350.8,378.9L351.5,378.4L352.2,377.5L353.0,377.0L353.8,376.7L354.7,376.9L355.5,376.5L356.3,376.6L357.2,376.1L358.0,376.0L358.8,376.5L359.7,376.6L360.5,376.9L361.3,377.5L362.2,377.9L363.0,378.0L363.8,377.6L364.7,377.7L365.5,377.6L366.3,377.2L367.2,377.1L368.0,377.0L368.8,375.0L369.7,373.3L370.5,371.6L371.3,370.3L372.2,368.7L373.0,366.8L373.8,365.4L374.5,365.0L375.2,363.2L376.0,363.4L376.8,362.7L377.5,362.7L378.2,363.3L379.0,363.2L379.8,362.7L380.5,363.6L381.2,363.3L382.0,363.9L382.8,363.4L383.5,364.2L384.2,364.9L385.0,364.5L385.8,368.2L386.5,371.2L387.2,375.1L388.0,379.0L389.0,380.4L390.0,382.0L391.0,380.5L392.0,379.0L393.0,374.8L394.0,370.4L394.8,368.8L395.5,368.3L396.2,366.8L397.0,366.3L397.8,365.7L398.5,364.3L399.2,363.5L400.0,363.1L400.8,362.3L401.5,362.5L402.2,361.7L403.0,361.9L403.8,361.1L404.5,358.1L405.2,354.2L406.0,351.6L406.8,352.5L407.5,353.0L408.2,352.9L409.0,353.8L409.8,351.9L410.5,350.5L411.2,349.0L412.0,345.2L415.0,379.0L416.0,381.0L417.0,382.0L419.5,346.9L420.2,346.4L421.0,346.7L421.8,345.9L422.5,347.0L425.0,380.0L426.0,383.0L426.8,381.2L427.5,379.0L428.5,348.5L429.2,347.1L430.0,347.5L430.8,348.2L431.5,352.1L432.2,355.3L433.0,356.0L433.8,356.0L434.5,356.4L435.2,356.1L436.0,353.9L436.8,354.1L437.5,355.0L438.2,357.6L439.0,358.0L439.8,359.2L440.5,360.6L441.2,359.5L442.0,360.2L442.8,358.8L443.5,359.8L444.2,360.0L445.0,359.9L445.8,360.5L446.5,360.3L447.2,361.2L448.0,360.1L448.8,357.0L449.5,356.3L450.2,354.8L451.0,352.5L451.8,352.9L452.5,354.1L453.2,356.4L454.0,358.7L457.0,381.0L460.0,362.3L460.8,362.2L461.5,363.6L462.2,363.7L463.0,364.8L463.8,363.7L464.5,362.5L465.2,361.4L466.0,358.1L466.8,356.8L467.5,357.7L468.2,358.2L469.0,358.8L469.8,359.5L470.5,358.6L471.2,357.2L472.0,352.9L472.8,349.4L473.5,347.9L474.2,344.7L475.0,343.8L475.8,345.4L476.5,344.1L477.2,345.8L478.0,344.4L478.8,344.5L479.5,344.7L480.2,343.8L481.0,345.8L481.8,347.8L482.5,347.0L483.2,347.5L484.0,348.8L487.0,381.0L488.0,379.8L489.0,378.0L489.8,377.8L490.5,377.7L491.2,377.1L492.0,377.0L492.8,377.3L493.7,377.2L494.5,377.4L495.3,377.9L496.2,378.0L497.0,378.0L497.8,377.6L498.7,377.5L499.5,377.4L500.3,377.3L501.2,377.1L502.0,377.0L502.8,376.6L503.7,376.5L504.5,376.6L505.3,376.6L506.2,375.9L507.0,376.0L507.8,376.2L508.5,376.4L509.2,376.1L510.0,376.5L510.8,376.7L511.5,376.5L512.2,376.3L513.0,376.5L513.8,376.6L514.5,376.5L515.2,375.6L516.0,374.7L516.8,374.7L517.5,374.5L518.2,375.3L519.0,376.5L519.8,376.3L520.5,376.3L521.2,376.1L522.0,376.0L522.8,376.4L523.7,376.6L524.5,377.0L525.3,377.1L526.2,377.7L527.0,378.0L527.8,377.8L528.7,377.5L529.5,377.6L530.3,377.5L531.2,377.1L532.0,377.0L532.8,376.7L533.7,376.7L534.5,376.3L535.3,376.1L536.2,376.1L537.0,376.0L537.8,376.1L538.7,376.6L539.5,377.0L540.3,377.1L541.2,377.7L542.0,378.0L542.8,377.6L543.7,377.8L544.5,377.7L545.3,377.3L546.2,376.9L547.0,377.0L547.8,376.8L548.7,376.6L549.5,376.8L550.3,376.1L551.2,376.4L552.0,376.0L552.8,375.8L553.7,375.1L554.5,374.7L555.3,373.7L556.2,373.8L557.0,372.9L557.8,371.6L558.5,370.3L559.2,370.1L560.0,368.6L560.8,368.6L561.5,367.3L562.2,366.3L563.0,366.3L563.8,366.5L564.5,365.6L565.2,366.1L566.0,364.9L566.8,368.0L567.5,372.3L568.2,376.4L569.0,380.0L570.0,381.6L570.8,380.0L571.5,379.0L573.5,361.0L574.4,366.7L575.2,370.7L576.1,376.2L577.0,381.0L577.9,384.0L578.8,388.0L579.6,384.5L580.5,381.0L581.3,380.0L582.2,378.1L583.0,377.0L583.8,376.7L584.7,376.7L585.5,376.4L586.3,376.1L587.2,376.0L588.0,376.0L590.0,348.7L590.8,343.8L591.5,341.1L592.2,340.1L593.0,336.4L596.0,380.0L597.0,382.4L598.0,384.4L599.0,382.6L600.0,380.0L600.9,380.9L601.8,382.5L603.5,351.4L604.2,352.8L605.0,352.4L607.0,377.0L607.8,376.6L608.7,376.7L609.5,376.6L610.3,376.3L611.2,376.4L612.0,376.0L612.8,376.4L613.7,376.7L614.5,377.2L615.3,377.1L616.2,378.0L617.0,378.0L618.0,363.8L618.8,364.7L619.5,365.1L620.2,365.1L621.0,365.6L621.8,366.4L622.5,366.1L623.2,365.8L624.0,366.4L626.0,379.0L627.0,380.7L627.9,381.6L630.0,359.0L630.8,357.7L631.5,356.0L632.2,354.3L633.0,353.4L633.8,353.3L634.5,351.6L637.0,380.0L637.9,381.3L638.7,382.7L640.5,358.2L641.2,358.3L642.0,360.2L642.8,359.7L643.5,358.0L644.2,355.6L645.0,355.9L645.8,356.0L646.5,354.1L647.2,353.1L648.0,353.7L648.8,355.3L649.5,356.0L650.2,358.6L651.0,358.5L652.7,381.6L654.0,375.0L654.6,350.0L655.3,320.0L656.0,345.0L657.0,370.0L658.0,377.0L658.6,380.0L659.8,412.5L661.4,387.3L662.2,388.1L663.1,388.9L663.9,389.2L664.7,390.1L665.5,390.6L666.3,393.0L667.2,391.4L668.2,392.0L670.0,377.0L670.8,376.6L671.6,376.7L672.4,376.4L673.2,376.2L674.0,376.0L674.8,376.4L675.7,376.1L676.5,376.3L677.3,376.7L678.2,376.6L679.0,377.0L679.8,376.9L680.7,377.3L681.5,377.3L682.3,377.6L683.2,377.7L684.0,378.0L684.8,377.7L685.7,377.4L686.5,376.9L687.3,376.7L688.2,376.3L689.0,376.0L689.8,375.9L690.7,376.6L691.5,376.4L692.3,376.5L693.2,376.6L694.0,377.0L694.8,377.2L695.7,377.5L696.5,377.7L697.3,377.6L698.2,377.7L699.0,378.0L699.8,377.5L700.7,377.8L701.5,377.5L702.3,377.3L703.2,377.2L704.0,377.0L704.8,376.8L705.7,376.9L706.5,376.6L707.3,376.2L708.2,376.4L709.0,376.0L709.8,375.9L710.7,376.4L711.5,376.4L712.3,376.5L713.2,376.6L714.0,377.0L714.8,377.3L715.7,377.1L716.5,377.5L717.3,377.9L718.2,377.6L719.0,378.0L719.8,377.7L720.7,377.7L721.5,377.5L722.3,377.4L723.2,377.3L724.0,377.0L724.8,376.7L725.7,376.6L726.5,376.4L727.3,376.1L728.2,376.4L729.0,376.0L729.8,376.3L730.7,376.5L731.5,376.2L732.3,376.9L733.2,377.0L734.0,377.0L734.8,377.1L735.7,377.5L736.5,377.5L737.3,377.5L738.2,377.6L739.0,378.0L739.8,377.7L740.7,377.4L741.5,377.4L742.3,377.5L743.2,377.3L744.0,377.0L744.8,377.0L745.7,376.8L746.5,376.4L747.3,376.4L748.2,376.1L749.0,376.0L749.8,375.3L750.6,374.2L751.4,373.0L752.2,372.5L753.0,371.4L753.8,370.4L754.5,368.1L755.2,366.2L756.0,365.3L756.8,365.1L757.5,363.3L758.2,366.4L759.0,370.9L759.8,374.9L760.5,379.0L761.9,380.0L763.5,364.8L764.2,363.6L765.0,361.4L765.8,362.8L766.5,362.1L767.2,364.4L768.0,365.7L768.8,367.4L769.6,370.3L770.4,371.7L771.2,373.7L772.0,376.0L772.8,376.4L773.7,376.4L774.5,376.6L775.3,376.8L776.2,377.1L777.0,377.0L777.8,377.2L778.7,377.5L779.5,377.6L780.3,377.9L781.2,377.8L782.0,378.0L782.8,378.0L783.7,377.7L784.5,377.4L785.3,377.2L786.2,377.2L787.0,377.0L787.8,376.6L788.7,376.9L789.5,376.3L790.3,376.1L791.2,375.9L792.0,376.0L794.0,362.4L794.8,362.9L795.5,361.4L796.2,359.8L797.0,358.8L797.8,356.5L798.5,356.2L799.2,354.2L800.0,355.0L800.8,353.0L801.5,354.0L802.2,354.1L803.0,353.0L803.8,352.9L804.5,352.0L805.2,351.8L806.0,350.3L806.8,350.1L807.5,348.3L808.2,346.9L809.0,348.3L809.8,349.0L810.5,349.2L811.2,348.7L812.0,349.1L812.8,349.5L813.5,347.9L813.9,376.0L814.3,377.0" fill="none" stroke="#e4802e" stroke-opacity="0.85" stroke-width="0.8" stroke-linejoin="round"/>
<path d="M59.0,377.0L59.0,377.0L60.0,362.0L61.0,350.0L62.0,341.0L63.0,345.0L64.0,343.0L65.0,352.0L65.8,351.5L66.5,349.0L67.2,353.8L68.0,356.0L69.0,356.8L70.0,360.0L71.0,360.0L72.0,358.0L72.8,355.3L73.5,350.0L74.6,347.0L76.0,353.0L77.2,350.0L78.4,347.0L79.5,355.0L80.5,365.0L82.0,374.0L83.0,375.3L84.0,376.0L85.0,376.8L86.0,378.0L87.0,381.2L88.0,385.0L89.0,385.9L90.0,388.0L91.0,389.0L92.0,392.0L93.0,395.4L94.0,397.0L94.8,398.9L95.6,399.4L96.4,400.0L97.5,399.0L98.5,396.0L99.5,394.8L100.5,393.0L101.5,391.0L102.5,390.0L103.2,387.3L104.0,386.0L105.3,378.0L105.8,370.0L106.8,358.4L108.0,364.0L108.8,366.3L109.5,370.0L110.2,371.8L111.0,373.0L112.0,373.7L113.0,375.0L113.8,375.1L114.5,375.4L115.2,375.4L116.0,376.0L116.8,375.8L117.6,375.9L118.4,376.1L119.2,375.9L120.0,376.0L120.8,376.1L121.7,376.6L122.5,376.5L123.3,376.9L124.2,376.9L125.0,377.0L125.8,376.8L126.7,377.1L127.5,377.2L128.3,377.5L129.2,377.3L130.0,377.5L130.8,377.7L131.7,377.7L132.5,377.6L133.3,378.1L134.2,377.7L135.0,378.0L135.8,378.2L136.7,377.8L137.5,377.7L138.3,377.8L139.2,378.2L140.0,378.0L140.8,378.1L141.7,377.4L142.5,377.5L143.3,377.3L144.2,377.3L145.0,377.0L145.8,376.8L146.7,377.0L147.5,376.9L148.3,377.2L149.2,376.9L150.0,377.0L150.8,377.1L151.7,376.5L152.5,376.3L153.3,376.4L154.2,376.2L155.0,376.0L155.9,375.2L156.8,375.1L157.8,374.2L158.7,374.0L159.5,374.0L160.3,373.7L161.2,373.5L162.0,373.0L162.8,373.4L163.6,373.5L164.4,373.8L165.2,374.1L166.0,374.5L166.8,374.5L167.6,373.5L168.4,374.0L169.2,372.9L170.0,373.0L170.8,372.9L171.6,373.2L172.4,374.0L173.2,373.8L174.0,374.0L174.8,374.4L175.5,375.3L176.2,375.3L177.0,376.0L177.8,376.3L178.7,376.7L179.5,377.1L180.3,377.5L181.2,377.8L182.0,378.0L182.8,378.0L183.5,378.1L184.2,378.1L185.0,378.7L185.8,378.7L186.5,378.9L187.2,378.6L188.0,379.0L188.8,378.8L189.5,378.9L190.2,378.7L191.0,378.2L191.8,378.3L192.5,378.5L193.2,378.0L194.0,378.0L194.8,377.5L195.7,377.2L196.5,377.1L197.3,376.9L198.2,376.1L199.0,376.0L200.0,373.7L201.0,372.0L202.0,367.7L203.0,368.0L204.0,369.0L205.0,368.2L206.0,368.0L206.8,368.7L207.7,368.9L208.5,370.0L209.2,372.3L210.0,375.0L210.8,375.2L211.6,376.1L212.4,376.3L213.2,376.4L214.0,377.0L214.8,377.0L215.6,376.4L216.4,376.3L217.2,376.5L218.0,376.0L219.0,373.3L220.0,370.0L221.0,364.0L222.0,363.5L223.0,362.0L223.8,362.5L224.5,362.6L225.2,364.2L226.0,364.6L226.8,363.1L227.5,362.7L228.2,362.4L229.0,362.0L229.8,361.2L230.5,362.3L231.2,363.4L232.0,363.0L233.0,362.0L234.0,360.0L234.8,358.0L235.5,356.0L236.5,362.0L237.2,365.3L238.0,368.0L239.0,370.0L240.0,372.0L240.8,372.1L241.5,373.1L242.2,373.4L243.0,374.0L243.8,374.4L244.6,374.7L245.4,374.5L246.2,374.9L247.0,375.0L247.8,375.4L248.6,375.3L249.4,375.4L250.2,375.9L251.0,376.0L251.8,376.4L252.6,376.6L253.4,376.7L254.2,377.0L255.0,377.0L255.8,377.5L256.6,377.9L257.4,378.2L258.2,378.5L259.0,379.0L259.8,380.1L260.5,380.6L261.2,381.9L262.0,383.0L262.8,386.1L263.7,388.7L264.5,391.0L265.2,387.7L266.0,384.0L267.0,381.2L268.0,379.0L268.8,378.4L269.5,378.0L270.2,377.6L271.0,377.0L271.8,376.8L272.6,376.7L273.4,376.6L274.2,376.0L275.0,376.0L275.8,376.1L276.7,376.2L277.5,375.9L278.3,376.0L279.2,376.3L280.0,376.0L280.8,375.9L281.7,376.4L282.5,376.3L283.3,376.8L284.2,377.1L285.0,377.0L285.8,377.0L286.7,376.8L287.5,377.0L288.3,377.0L289.2,377.1L290.0,377.0L290.8,376.9L291.5,376.8L292.2,376.8L293.0,376.5L293.8,376.3L294.5,376.5L295.2,375.9L296.0,376.0L296.8,376.0L297.5,375.7L298.2,375.8L299.0,375.2L299.8,375.7L300.5,375.1L301.2,374.8L302.0,375.0L302.8,375.0L303.5,375.2L304.2,375.0L305.0,375.4L305.8,375.6L306.5,375.9L307.2,375.8L308.0,376.0L308.8,376.0L309.5,376.1L310.2,376.5L311.0,376.7L311.8,376.6L312.5,376.6L313.2,377.0L314.0,377.0L314.8,377.3L315.6,377.6L316.4,378.0L317.2,378.8L318.0,379.0L318.9,380.3L319.8,381.1L320.7,382.0L321.6,383.0L322.4,381.7L323.2,380.1L324.0,379.0L324.8,378.7L325.6,377.7L326.4,377.3L327.2,376.8L328.0,376.0L328.8,376.0L329.5,375.5L330.2,375.1L331.0,375.0L331.8,374.5L332.5,374.8L333.2,374.1L334.0,374.0L334.8,374.4L335.5,374.1L336.2,374.3L337.0,374.3L337.8,374.6L338.5,374.5L339.2,374.5L340.0,375.0L340.8,375.3L341.5,375.1L342.2,375.2L343.0,375.4L343.8,375.6L344.5,375.7L345.2,376.0L346.0,376.0L346.8,376.2L347.5,376.2L348.2,376.6L349.0,376.7L349.8,376.4L350.5,376.9L351.2,377.1L352.0,377.0L352.8,377.8L353.6,378.0L354.4,379.0L355.2,379.5L356.0,380.0L356.8,380.9L357.6,382.2L358.4,384.8L359.2,385.8L360.0,387.0L360.8,385.1L361.5,383.5L362.2,382.1L363.0,381.0L363.8,380.0L364.5,379.7L365.2,378.6L366.0,378.0L366.8,377.2L367.6,377.0L368.4,376.4L369.2,375.4L370.0,375.0L370.8,373.0L371.5,370.3L372.2,368.2L373.0,365.3L373.8,364.7L374.5,363.5L375.2,363.6L376.0,361.9L376.8,362.2L377.5,361.2L378.2,362.3L379.0,361.7L379.8,361.2L380.5,362.1L381.2,362.7L382.0,362.4L382.8,362.6L383.5,362.7L384.2,363.3L385.0,363.0L385.8,363.0L386.5,363.4L387.2,364.4L388.0,363.9L388.8,364.3L389.5,364.5L390.2,364.8L391.0,366.0L391.8,366.5L392.5,368.0L393.2,367.9L394.0,368.9L394.8,367.8L395.5,366.8L396.2,365.0L397.0,364.8L397.8,363.8L398.5,362.8L399.2,361.4L400.0,361.6L400.8,361.3L401.5,361.0L402.2,360.7L403.0,360.4L403.8,358.6L404.5,356.6L405.2,354.5L406.0,350.1L406.8,349.2L407.5,351.5L408.2,353.0L409.0,352.2L409.8,350.5L410.5,349.0L411.2,346.6L412.0,343.7L412.8,342.5L413.5,340.2L414.2,343.1L415.0,343.9L415.8,344.5L416.5,345.9L417.2,345.5L418.0,345.7L418.8,347.0L419.5,345.4L420.2,343.9L421.0,345.2L421.8,345.8L422.5,345.5L423.2,346.3L424.0,346.3L424.8,345.1L425.5,347.0L426.2,347.8L427.0,347.8L427.8,348.0L428.5,347.0L429.2,347.9L430.0,346.0L430.8,347.7L431.5,350.6L432.2,354.1L433.0,354.5L433.8,354.8L434.5,354.9L435.2,353.6L436.0,352.4L436.8,354.2L437.5,353.5L438.2,353.5L439.0,356.5L439.8,358.4L440.5,359.1L441.2,359.2L442.0,358.7L442.8,358.1L443.5,358.3L444.2,359.4L445.0,358.4L445.8,358.3L446.5,358.8L447.2,358.6L448.0,358.6L448.8,356.7L449.5,354.8L450.2,353.8L451.0,351.0L451.8,350.9L452.5,352.6L453.2,354.7L454.0,357.2L454.8,357.7L455.5,358.7L456.2,359.1L457.0,359.2L457.8,360.4L458.5,359.8L459.2,359.8L460.0,360.8L460.8,362.2L461.5,362.1L462.2,362.5L463.0,363.3L463.8,362.2L464.5,361.0L465.2,358.2L466.0,356.6L466.8,356.4L467.5,356.2L468.2,358.2L469.0,357.3L469.8,357.6L470.5,357.1L471.2,355.2L472.0,351.4L472.8,348.3L473.5,346.4L474.2,343.8L475.0,342.3L475.8,341.8L476.5,342.6L477.2,343.0L478.0,342.9L478.8,343.5L479.5,343.2L480.2,344.7L481.0,344.3L481.8,343.4L482.5,345.5L483.2,347.1L484.0,347.3L486.0,372.0L487.0,374.3L488.0,376.0L489.0,378.0L489.8,382.0L490.5,386.0L491.6,388.1L492.6,392.0L493.4,390.9L494.2,389.6L495.0,390.0L496.0,390.8L497.0,393.0L497.8,393.3L498.7,391.9L499.5,391.0L500.3,392.3L501.2,393.5L502.0,393.7L502.9,394.3L503.8,393.1L504.6,392.7L505.5,392.0L506.5,392.0L507.4,391.8L508.4,391.0L509.3,389.9L510.1,388.7L511.0,387.0L512.0,384.8L513.0,383.5L513.8,382.6L514.5,381.2L515.2,380.4L516.0,379.0L516.9,378.1L517.8,377.5L518.7,377.0L519.5,375.7L520.2,375.2L521.0,374.0L521.8,373.4L522.6,372.2L523.5,370.8L524.3,370.0L525.2,369.2L526.1,367.8L527.0,366.0L528.0,365.1L529.0,363.9L530.0,365.0L531.0,367.0L531.8,367.2L532.5,367.9L533.2,368.2L534.0,369.0L534.8,369.0L535.6,369.4L536.4,369.9L537.2,368.8L538.0,369.5L538.8,369.5L539.6,368.6L540.4,368.7L541.2,369.5L542.0,369.0L542.8,369.0L543.6,369.4L544.4,368.6L545.2,367.9L546.0,368.5L546.8,368.2L547.6,368.4L548.4,368.9L549.2,368.9L550.0,368.0L550.8,367.8L551.6,367.5L552.4,366.7L553.2,367.4L554.0,367.0L555.0,364.4L556.0,363.0L557.0,371.4L557.8,369.6L558.5,368.8L559.2,367.2L560.0,367.1L560.8,365.6L561.5,365.8L562.2,365.7L563.0,364.8L563.8,363.7L564.5,364.1L565.2,364.7L566.0,363.4L566.8,362.2L567.5,362.8L568.2,363.2L569.0,362.0L569.8,360.7L570.5,361.2L571.2,359.6L572.0,360.4L572.8,360.5L573.5,359.5L574.2,359.1L575.0,360.1L575.8,364.3L576.5,367.0L577.2,370.7L578.0,375.0L578.8,376.4L579.5,377.6L580.2,379.0L581.0,380.0L581.8,381.7L582.5,382.5L583.2,384.7L584.0,386.0L585.0,383.8L586.0,381.0L587.0,378.5L588.0,376.0L588.8,375.7L589.6,374.6L590.4,374.6L591.2,373.8L592.0,373.0L592.8,372.3L593.6,372.1L594.4,372.6L595.2,372.5L596.0,372.0L596.8,371.7L597.6,372.2L598.4,372.8L599.2,372.5L600.0,373.0L600.8,373.9L601.6,374.2L602.4,374.5L603.2,375.3L604.0,376.0L605.0,377.5L606.0,379.0L606.8,379.9L607.5,381.2L608.2,381.6L609.0,383.0L609.9,384.5L610.7,385.0L611.6,386.3L612.4,385.4L613.2,384.3L614.0,383.0L614.8,381.7L615.5,380.4L616.2,379.5L617.0,378.0L618.0,362.3L618.8,363.9L619.5,363.6L620.2,364.4L621.0,364.1L621.8,364.5L622.5,364.6L623.2,364.3L624.0,364.9L624.8,363.6L625.5,364.2L626.2,364.8L627.0,363.5L627.8,362.5L628.5,360.5L629.2,359.9L630.0,357.5L630.8,355.5L631.5,354.5L632.2,353.5L633.0,351.9L633.8,352.5L634.5,350.1L635.2,350.6L636.0,349.0L636.8,350.5L637.5,351.4L638.2,352.1L639.0,354.1L639.8,355.2L640.5,356.7L641.2,358.8L642.0,358.7L642.8,357.2L643.5,356.5L644.2,356.0L645.0,354.4L645.8,353.8L646.5,352.6L647.2,353.7L648.0,352.2L648.8,354.3L649.5,354.5L650.2,355.1L651.0,357.0L651.8,354.2L652.5,354.4L654.3,337.0L654.9,300.0L655.7,268.0L657.0,272.0L658.0,275.2L659.0,280.0L660.0,283.8L661.0,288.0L662.0,293.3L663.0,298.0L665.0,310.0L665.5,345.0L665.8,377.0L666.6,377.2L667.5,377.2L668.3,376.8L669.2,377.2L670.0,377.0L670.8,377.2L671.6,377.2L672.4,377.0L673.2,377.0L674.5,412.5L676.0,393.0L677.0,393.3L677.9,394.8L678.6,391.8L679.4,387.3L680.5,394.6L681.6,400.4L682.5,397.5L683.5,394.5L684.4,390.0L685.3,384.7L686.3,379.9L687.2,380.4L688.1,381.8L689.1,383.0L690.0,383.6L690.9,382.3L691.9,382.0L692.8,380.8L694.7,394.8L695.6,392.3L696.6,387.5L697.5,384.5L698.5,380.9L699.4,377.0L700.3,377.1L701.1,377.0L702.0,377.0L703.0,378.3L704.0,380.0L704.8,380.9L705.5,382.5L706.2,383.7L707.0,384.5L707.9,382.8L708.8,380.8L709.7,379.9L710.6,378.0L711.5,377.7L712.3,376.9L713.1,376.5L714.0,376.0L714.8,376.1L715.5,376.0L716.2,375.6L717.0,375.5L717.8,375.4L718.5,375.0L719.2,374.9L720.0,375.0L720.8,374.6L721.5,374.9L722.2,374.5L723.0,374.6L723.8,374.3L724.5,374.3L725.2,373.8L726.0,374.0L726.8,373.5L727.5,374.2L728.2,373.5L729.0,373.1L729.8,373.5L730.5,373.5L731.2,372.8L732.0,373.0L732.8,372.8L733.5,372.3L734.2,372.3L735.0,371.5L735.8,371.2L736.5,372.1L737.2,371.7L738.0,371.0L738.8,371.1L739.5,371.3L740.2,371.1L741.0,371.8L741.8,371.5L742.5,372.3L743.2,372.2L744.0,372.0L744.8,372.4L745.5,372.5L746.2,371.7L747.0,371.5L747.8,371.7L748.5,371.6L749.2,371.5L750.0,372.0L750.8,371.0L751.5,371.0L752.2,370.9L753.0,369.9L753.8,368.2L754.5,366.6L755.2,366.0L756.0,363.8L756.8,363.7L757.5,361.8L758.2,361.6L759.0,363.2L759.8,364.0L760.5,364.4L761.2,364.7L762.0,365.5L762.8,363.6L763.5,363.3L764.2,362.7L765.0,359.9L765.8,359.6L766.5,360.6L767.2,362.5L768.0,364.2L768.8,365.4L769.5,366.9L770.2,367.4L771.0,367.9L771.8,369.0L772.5,369.6L773.2,371.6L774.0,372.0L774.8,372.4L775.5,371.4L776.2,371.1L777.0,371.2L777.8,371.2L778.5,371.7L779.2,371.6L780.0,371.0L780.8,371.3L781.5,370.2L782.2,371.0L783.0,370.8L783.8,370.6L784.5,370.9L785.2,369.5L786.0,370.0L786.8,369.3L787.5,369.9L788.2,369.9L789.0,369.3L789.8,368.5L790.5,368.6L791.2,368.6L792.0,368.0L793.0,363.7L794.0,360.9L794.8,360.0L795.5,359.9L796.2,358.0L797.0,357.3L797.8,354.9L798.5,354.7L799.2,354.1L800.0,353.5L800.8,352.0L801.5,352.5L802.2,351.2L803.0,351.5L803.8,349.9L804.5,350.5L805.2,350.2L806.0,348.8L806.8,346.2L807.5,346.8L808.2,347.5L809.0,346.8L809.8,346.3L810.5,347.7L811.2,346.2L812.0,347.6L812.8,348.4L813.5,346.4L813.9,358.0L814.3,377.0L814.3,377.0Z" fill="#68ad2e" fill-opacity="0.55"/>
<path d="M59.0,377.0L60.0,362.0L61.0,350.0L62.0,341.0L63.0,345.0L64.0,343.0L65.0,352.0L65.8,351.5L66.5,349.0L67.2,353.8L68.0,356.0L69.0,356.8L70.0,360.0L71.0,360.0L72.0,358.0L72.8,355.3L73.5,350.0L74.6,347.0L76.0,353.0L77.2,350.0L78.4,347.0L79.5,355.0L80.5,365.0L82.0,374.0L83.0,375.3L84.0,376.0L85.0,376.8L86.0,378.0L87.0,381.2L88.0,385.0L89.0,385.9L90.0,388.0L91.0,389.0L92.0,392.0L93.0,395.4L94.0,397.0L94.8,398.9L95.6,399.4L96.4,400.0L97.5,399.0L98.5,396.0L99.5,394.8L100.5,393.0L101.5,391.0L102.5,390.0L103.2,387.3L104.0,386.0L105.3,378.0L105.8,370.0L106.8,358.4L108.0,364.0L108.8,366.3L109.5,370.0L110.2,371.8L111.0,373.0L112.0,373.7L113.0,375.0L113.8,375.1L114.5,375.4L115.2,375.4L116.0,376.0L116.8,375.8L117.6,375.9L118.4,376.1L119.2,375.9L120.0,376.0L120.8,376.1L121.7,376.6L122.5,376.5L123.3,376.9L124.2,376.9L125.0,377.0L125.8,376.8L126.7,377.1L127.5,377.2L128.3,377.5L129.2,377.3L130.0,377.5L130.8,377.7L131.7,377.7L132.5,377.6L133.3,378.1L134.2,377.7L135.0,378.0L135.8,378.2L136.7,377.8L137.5,377.7L138.3,377.8L139.2,378.2L140.0,378.0L140.8,378.1L141.7,377.4L142.5,377.5L143.3,377.3L144.2,377.3L145.0,377.0L145.8,376.8L146.7,377.0L147.5,376.9L148.3,377.2L149.2,376.9L150.0,377.0L150.8,377.1L151.7,376.5L152.5,376.3L153.3,376.4L154.2,376.2L155.0,376.0L155.9,375.2L156.8,375.1L157.8,374.2L158.7,374.0L159.5,374.0L160.3,373.7L161.2,373.5L162.0,373.0L162.8,373.4L163.6,373.5L164.4,373.8L165.2,374.1L166.0,374.5L166.8,374.5L167.6,373.5L168.4,374.0L169.2,372.9L170.0,373.0L170.8,372.9L171.6,373.2L172.4,374.0L173.2,373.8L174.0,374.0L174.8,374.4L175.5,375.3L176.2,375.3L177.0,376.0L177.8,376.3L178.7,376.7L179.5,377.1L180.3,377.5L181.2,377.8L182.0,378.0L182.8,378.0L183.5,378.1L184.2,378.1L185.0,378.7L185.8,378.7L186.5,378.9L187.2,378.6L188.0,379.0L188.8,378.8L189.5,378.9L190.2,378.7L191.0,378.2L191.8,378.3L192.5,378.5L193.2,378.0L194.0,378.0L194.8,377.5L195.7,377.2L196.5,377.1L197.3,376.9L198.2,376.1L199.0,376.0L200.0,373.7L201.0,372.0L202.0,367.7L203.0,368.0L204.0,369.0L205.0,368.2L206.0,368.0L206.8,368.7L207.7,368.9L208.5,370.0L209.2,372.3L210.0,375.0L210.8,375.2L211.6,376.1L212.4,376.3L213.2,376.4L214.0,377.0L214.8,377.0L215.6,376.4L216.4,376.3L217.2,376.5L218.0,376.0L219.0,373.3L220.0,370.0L221.0,364.0L222.0,363.5L223.0,362.0L223.8,362.5L224.5,362.6L225.2,364.2L226.0,364.6L226.8,363.1L227.5,362.7L228.2,362.4L229.0,362.0L229.8,361.2L230.5,362.3L231.2,363.4L232.0,363.0L233.0,362.0L234.0,360.0L234.8,358.0L235.5,356.0L236.5,362.0L237.2,365.3L238.0,368.0L239.0,370.0L240.0,372.0L240.8,372.1L241.5,373.1L242.2,373.4L243.0,374.0L243.8,374.4L244.6,374.7L245.4,374.5L246.2,374.9L247.0,375.0L247.8,375.4L248.6,375.3L249.4,375.4L250.2,375.9L251.0,376.0L251.8,376.4L252.6,376.6L253.4,376.7L254.2,377.0L255.0,377.0L255.8,377.5L256.6,377.9L257.4,378.2L258.2,378.5L259.0,379.0L259.8,380.1L260.5,380.6L261.2,381.9L262.0,383.0L262.8,386.1L263.7,388.7L264.5,391.0L265.2,387.7L266.0,384.0L267.0,381.2L268.0,379.0L268.8,378.4L269.5,378.0L270.2,377.6L271.0,377.0L271.8,376.8L272.6,376.7L273.4,376.6L274.2,376.0L275.0,376.0L275.8,376.1L276.7,376.2L277.5,375.9L278.3,376.0L279.2,376.3L280.0,376.0L280.8,375.9L281.7,376.4L282.5,376.3L283.3,376.8L284.2,377.1L285.0,377.0L285.8,377.0L286.7,376.8L287.5,377.0L288.3,377.0L289.2,377.1L290.0,377.0L290.8,376.9L291.5,376.8L292.2,376.8L293.0,376.5L293.8,376.3L294.5,376.5L295.2,375.9L296.0,376.0L296.8,376.0L297.5,375.7L298.2,375.8L299.0,375.2L299.8,375.7L300.5,375.1L301.2,374.8L302.0,375.0L302.8,375.0L303.5,375.2L304.2,375.0L305.0,375.4L305.8,375.6L306.5,375.9L307.2,375.8L308.0,376.0L308.8,376.0L309.5,376.1L310.2,376.5L311.0,376.7L311.8,376.6L312.5,376.6L313.2,377.0L314.0,377.0L314.8,377.3L315.6,377.6L316.4,378.0L317.2,378.8L318.0,379.0L318.9,380.3L319.8,381.1L320.7,382.0L321.6,383.0L322.4,381.7L323.2,380.1L324.0,379.0L324.8,378.7L325.6,377.7L326.4,377.3L327.2,376.8L328.0,376.0L328.8,376.0L329.5,375.5L330.2,375.1L331.0,375.0L331.8,374.5L332.5,374.8L333.2,374.1L334.0,374.0L334.8,374.4L335.5,374.1L336.2,374.3L337.0,374.3L337.8,374.6L338.5,374.5L339.2,374.5L340.0,375.0L340.8,375.3L341.5,375.1L342.2,375.2L343.0,375.4L343.8,375.6L344.5,375.7L345.2,376.0L346.0,376.0L346.8,376.2L347.5,376.2L348.2,376.6L349.0,376.7L349.8,376.4L350.5,376.9L351.2,377.1L352.0,377.0L352.8,377.8L353.6,378.0L354.4,379.0L355.2,379.5L356.0,380.0L356.8,380.9L357.6,382.2L358.4,384.8L359.2,385.8L360.0,387.0L360.8,385.1L361.5,383.5L362.2,382.1L363.0,381.0L363.8,380.0L364.5,379.7L365.2,378.6L366.0,378.0L366.8,377.2L367.6,377.0L368.4,376.4L369.2,375.4L370.0,375.0L370.8,373.0L371.5,370.3L372.2,368.2L373.0,365.3L373.8,364.7L374.5,363.5L375.2,363.6L376.0,361.9L376.8,362.2L377.5,361.2L378.2,362.3L379.0,361.7L379.8,361.2L380.5,362.1L381.2,362.7L382.0,362.4L382.8,362.6L383.5,362.7L384.2,363.3L385.0,363.0L385.8,363.0L386.5,363.4L387.2,364.4L388.0,363.9L388.8,364.3L389.5,364.5L390.2,364.8L391.0,366.0L391.8,366.5L392.5,368.0L393.2,367.9L394.0,368.9L394.8,367.8L395.5,366.8L396.2,365.0L397.0,364.8L397.8,363.8L398.5,362.8L399.2,361.4L400.0,361.6L400.8,361.3L401.5,361.0L402.2,360.7L403.0,360.4L403.8,358.6L404.5,356.6L405.2,354.5L406.0,350.1L406.8,349.2L407.5,351.5L408.2,353.0L409.0,352.2L409.8,350.5L410.5,349.0L411.2,346.6L412.0,343.7L412.8,342.5L413.5,340.2L414.2,343.1L415.0,343.9L415.8,344.5L416.5,345.9L417.2,345.5L418.0,345.7L418.8,347.0L419.5,345.4L420.2,343.9L421.0,345.2L421.8,345.8L422.5,345.5L423.2,346.3L424.0,346.3L424.8,345.1L425.5,347.0L426.2,347.8L427.0,347.8L427.8,348.0L428.5,347.0L429.2,347.9L430.0,346.0L430.8,347.7L431.5,350.6L432.2,354.1L433.0,354.5L433.8,354.8L434.5,354.9L435.2,353.6L436.0,352.4L436.8,354.2L437.5,353.5L438.2,353.5L439.0,356.5L439.8,358.4L440.5,359.1L441.2,359.2L442.0,358.7L442.8,358.1L443.5,358.3L444.2,359.4L445.0,358.4L445.8,358.3L446.5,358.8L447.2,358.6L448.0,358.6L448.8,356.7L449.5,354.8L450.2,353.8L451.0,351.0L451.8,350.9L452.5,352.6L453.2,354.7L454.0,357.2L454.8,357.7L455.5,358.7L456.2,359.1L457.0,359.2L457.8,360.4L458.5,359.8L459.2,359.8L460.0,360.8L460.8,362.2L461.5,362.1L462.2,362.5L463.0,363.3L463.8,362.2L464.5,361.0L465.2,358.2L466.0,356.6L466.8,356.4L467.5,356.2L468.2,358.2L469.0,357.3L469.8,357.6L470.5,357.1L471.2,355.2L472.0,351.4L472.8,348.3L473.5,346.4L474.2,343.8L475.0,342.3L475.8,341.8L476.5,342.6L477.2,343.0L478.0,342.9L478.8,343.5L479.5,343.2L480.2,344.7L481.0,344.3L481.8,343.4L482.5,345.5L483.2,347.1L484.0,347.3L486.0,372.0L487.0,374.3L488.0,376.0L489.0,378.0L489.8,382.0L490.5,386.0L491.6,388.1L492.6,392.0L493.4,390.9L494.2,389.6L495.0,390.0L496.0,390.8L497.0,393.0L497.8,393.3L498.7,391.9L499.5,391.0L500.3,392.3L501.2,393.5L502.0,393.7L502.9,394.3L503.8,393.1L504.6,392.7L505.5,392.0L506.5,392.0L507.4,391.8L508.4,391.0L509.3,389.9L510.1,388.7L511.0,387.0L512.0,384.8L513.0,383.5L513.8,382.6L514.5,381.2L515.2,380.4L516.0,379.0L516.9,378.1L517.8,377.5L518.7,377.0L519.5,375.7L520.2,375.2L521.0,374.0L521.8,373.4L522.6,372.2L523.5,370.8L524.3,370.0L525.2,369.2L526.1,367.8L527.0,366.0L528.0,365.1L529.0,363.9L530.0,365.0L531.0,367.0L531.8,367.2L532.5,367.9L533.2,368.2L534.0,369.0L534.8,369.0L535.6,369.4L536.4,369.9L537.2,368.8L538.0,369.5L538.8,369.5L539.6,368.6L540.4,368.7L541.2,369.5L542.0,369.0L542.8,369.0L543.6,369.4L544.4,368.6L545.2,367.9L546.0,368.5L546.8,368.2L547.6,368.4L548.4,368.9L549.2,368.9L550.0,368.0L550.8,367.8L551.6,367.5L552.4,366.7L553.2,367.4L554.0,367.0L555.0,364.4L556.0,363.0L557.0,371.4L557.8,369.6L558.5,368.8L559.2,367.2L560.0,367.1L560.8,365.6L561.5,365.8L562.2,365.7L563.0,364.8L563.8,363.7L564.5,364.1L565.2,364.7L566.0,363.4L566.8,362.2L567.5,362.8L568.2,363.2L569.0,362.0L569.8,360.7L570.5,361.2L571.2,359.6L572.0,360.4L572.8,360.5L573.5,359.5L574.2,359.1L575.0,360.1L575.8,364.3L576.5,367.0L577.2,370.7L578.0,375.0L578.8,376.4L579.5,377.6L580.2,379.0L581.0,380.0L581.8,381.7L582.5,382.5L583.2,384.7L584.0,386.0L585.0,383.8L586.0,381.0L587.0,378.5L588.0,376.0L588.8,375.7L589.6,374.6L590.4,374.6L591.2,373.8L592.0,373.0L592.8,372.3L593.6,372.1L594.4,372.6L595.2,372.5L596.0,372.0L596.8,371.7L597.6,372.2L598.4,372.8L599.2,372.5L600.0,373.0L600.8,373.9L601.6,374.2L602.4,374.5L603.2,375.3L604.0,376.0L605.0,377.5L606.0,379.0L606.8,379.9L607.5,381.2L608.2,381.6L609.0,383.0L609.9,384.5L610.7,385.0L611.6,386.3L612.4,385.4L613.2,384.3L614.0,383.0L614.8,381.7L615.5,380.4L616.2,379.5L617.0,378.0L618.0,362.3L618.8,363.9L619.5,363.6L620.2,364.4L621.0,364.1L621.8,364.5L622.5,364.6L623.2,364.3L624.0,364.9L624.8,363.6L625.5,364.2L626.2,364.8L627.0,363.5L627.8,362.5L628.5,360.5L629.2,359.9L630.0,357.5L630.8,355.5L631.5,354.5L632.2,353.5L633.0,351.9L633.8,352.5L634.5,350.1L635.2,350.6L636.0,349.0L636.8,350.5L637.5,351.4L638.2,352.1L639.0,354.1L639.8,355.2L640.5,356.7L641.2,358.8L642.0,358.7L642.8,357.2L643.5,356.5L644.2,356.0L645.0,354.4L645.8,353.8L646.5,352.6L647.2,353.7L648.0,352.2L648.8,354.3L649.5,354.5L650.2,355.1L651.0,357.0L651.8,354.2L652.5,354.4L654.3,337.0L654.9,300.0L655.7,268.0L657.0,272.0L658.0,275.2L659.0,280.0L660.0,283.8L661.0,288.0L662.0,293.3L663.0,298.0L665.0,310.0L665.5,345.0L665.8,377.0L666.6,377.2L667.5,377.2L668.3,376.8L669.2,377.2L670.0,377.0L670.8,377.2L671.6,377.2L672.4,377.0L673.2,377.0L674.5,412.5L676.0,393.0L677.0,393.3L677.9,394.8L678.6,391.8L679.4,387.3L680.5,394.6L681.6,400.4L682.5,397.5L683.5,394.5L684.4,390.0L685.3,384.7L686.3,379.9L687.2,380.4L688.1,381.8L689.1,383.0L690.0,383.6L690.9,382.3L691.9,382.0L692.8,380.8L694.7,394.8L695.6,392.3L696.6,387.5L697.5,384.5L698.5,380.9L699.4,377.0L700.3,377.1L701.1,377.0L702.0,377.0L703.0,378.3L704.0,380.0L704.8,380.9L705.5,382.5L706.2,383.7L707.0,384.5L707.9,382.8L708.8,380.8L709.7,379.9L710.6,378.0L711.5,377.7L712.3,376.9L713.1,376.5L714.0,376.0L714.8,376.1L715.5,376.0L716.2,375.6L717.0,375.5L717.8,375.4L718.5,375.0L719.2,374.9L720.0,375.0L720.8,374.6L721.5,374.9L722.2,374.5L723.0,374.6L723.8,374.3L724.5,374.3L725.2,373.8L726.0,374.0L726.8,373.5L727.5,374.2L728.2,373.5L729.0,373.1L729.8,373.5L730.5,373.5L731.2,372.8L732.0,373.0L732.8,372.8L733.5,372.3L734.2,372.3L735.0,371.5L735.8,371.2L736.5,372.1L737.2,371.7L738.0,371.0L738.8,371.1L739.5,371.3L740.2,371.1L741.0,371.8L741.8,371.5L742.5,372.3L743.2,372.2L744.0,372.0L744.8,372.4L745.5,372.5L746.2,371.7L747.0,371.5L747.8,371.7L748.5,371.6L749.2,371.5L750.0,372.0L750.8,371.0L751.5,371.0L752.2,370.9L753.0,369.9L753.8,368.2L754.5,366.6L755.2,366.0L756.0,363.8L756.8,363.7L757.5,361.8L758.2,361.6L759.0,363.2L759.8,364.0L760.5,364.4L761.2,364.7L762.0,365.5L762.8,363.6L763.5,363.3L764.2,362.7L765.0,359.9L765.8,359.6L766.5,360.6L767.2,362.5L768.0,364.2L768.8,365.4L769.5,366.9L770.2,367.4L771.0,367.9L771.8,369.0L772.5,369.6L773.2,371.6L774.0,372.0L774.8,372.4L775.5,371.4L776.2,371.1L777.0,371.2L777.8,371.2L778.5,371.7L779.2,371.6L780.0,371.0L780.8,371.3L781.5,370.2L782.2,371.0L783.0,370.8L783.8,370.6L784.5,370.9L785.2,369.5L786.0,370.0L786.8,369.3L787.5,369.9L788.2,369.9L789.0,369.3L789.8,368.5L790.5,368.6L791.2,368.6L792.0,368.0L793.0,363.7L794.0,360.9L794.8,360.0L795.5,359.9L796.2,358.0L797.0,357.3L797.8,354.9L798.5,354.7L799.2,354.1L800.0,353.5L800.8,352.0L801.5,352.5L802.2,351.2L803.0,351.5L803.8,349.9L804.5,350.5L805.2,350.2L806.0,348.8L806.8,346.2L807.5,346.8L808.2,347.5L809.0,346.8L809.8,346.3L810.5,347.7L811.2,346.2L812.0,347.6L812.8,348.4L813.5,346.4L813.9,358.0L814.3,377.0" fill="none" stroke="#68ad2e" stroke-opacity="0.85" stroke-width="0.8" stroke-linejoin="round"/>
<path d="M98.5,377.0L98.5,377.0L99.2,373.8L100.0,371.0L100.8,369.2L101.5,366.0L102.2,365.5L103.0,363.6L103.8,366.0L104.5,367.0L105.2,368.5L106.0,371.0L107.0,369.9L108.0,369.0L109.0,370.5L110.0,373.0L111.0,373.9L112.0,374.0L112.8,372.9L113.5,371.0L114.2,370.2L115.0,369.0L116.3,373.0L117.0,377.0L118.0,390.0L119.0,399.0L119.8,397.4L120.5,396.0L121.2,393.6L122.0,392.0L123.0,389.6L124.0,386.0L125.0,383.5L126.0,381.0L126.8,380.1L127.6,379.0L129.0,384.0L130.0,388.3L131.0,394.0L132.0,396.2L133.0,400.0L133.9,400.6L134.8,404.0L135.7,403.2L136.5,401.0L137.5,400.2L138.5,399.0L139.2,398.9L140.0,401.0L140.8,399.6L141.5,396.0L142.8,384.0L143.5,372.0L144.0,363.6L144.7,374.0L145.5,381.0L146.3,381.7L147.2,382.9L148.0,384.0L148.8,383.8L149.6,384.3L150.4,385.4L151.2,385.0L152.0,385.5L152.8,385.1L153.7,385.7L154.5,385.5L155.3,386.5L156.2,385.3L157.0,386.0L157.8,386.5L158.7,384.8L159.5,385.8L160.3,385.2L161.2,384.3L162.0,384.5L162.8,384.7L163.5,384.7L164.2,384.9L165.0,385.0L165.8,385.5L166.5,386.8L167.2,387.1L168.0,386.5L168.8,387.4L169.5,386.2L170.2,386.7L171.0,387.9L171.8,386.7L172.5,388.0L173.2,387.4L174.0,388.0L174.8,388.9L175.5,387.1L176.2,388.6L177.0,387.7L177.8,387.3L178.5,387.1L179.2,388.6L180.0,388.0L180.8,388.3L181.5,387.9L182.2,388.6L183.0,389.8L183.8,388.7L184.5,389.6L185.2,389.0L186.0,390.0L186.8,389.4L187.5,390.7L188.2,390.6L189.0,389.6L189.8,389.4L190.5,389.5L191.2,390.7L192.0,390.5L192.8,390.4L193.5,389.9L194.2,389.7L195.0,390.5L195.8,390.6L196.5,390.8L197.2,390.2L198.0,390.0L198.8,389.6L199.6,389.5L200.4,391.1L201.2,390.6L202.0,391.0L202.8,391.7L203.6,390.4L204.4,392.3L205.2,391.4L206.0,392.0L206.8,392.6L207.6,392.4L208.4,391.4L209.2,390.1L210.0,391.0L210.8,392.1L211.6,391.3L212.4,392.4L213.2,391.3L214.0,392.0L214.8,391.1L215.6,392.3L216.4,391.1L217.2,390.5L218.0,391.0L218.8,390.2L219.5,390.2L220.2,388.5L221.0,389.0L222.0,387.0L223.0,385.0L223.8,384.4L224.5,384.0L225.2,383.0L226.0,383.0L226.8,383.1L227.6,383.0L228.4,382.8L229.2,382.0L230.0,382.0L230.8,381.8L231.6,381.1L232.4,381.0L233.2,380.0L234.0,380.0L234.9,378.8L235.8,377.0L236.5,355.0L237.2,354.0L238.0,350.0L239.0,348.0L240.0,346.0L241.0,344.0L242.0,342.0L242.9,340.4L243.8,338.7L244.7,341.0L245.5,343.0L246.2,343.5L247.0,347.0L248.0,349.5L249.0,349.0L249.8,348.0L250.5,348.8L251.2,348.9L252.0,351.0L253.0,349.2L254.0,350.0L255.0,350.2L256.0,352.0L256.8,354.7L257.5,353.9L258.3,357.0L259.1,354.8L260.0,355.0L261.4,354.4L262.3,356.2L263.1,355.9L264.0,358.0L264.9,357.5L265.8,359.8L266.7,360.4L267.6,361.0L268.4,360.1L269.2,359.5L270.0,358.0L270.8,355.5L271.7,356.5L272.5,354.0L273.5,353.7L274.5,352.0L275.8,356.0L277.0,360.0L278.0,366.0L279.0,370.6L280.0,368.0L281.0,366.4L282.0,368.0L283.0,371.0L284.0,373.2L285.0,376.0L285.8,376.2L286.5,376.5L287.2,376.6L288.0,377.0L289.0,377.0L290.0,374.2L291.0,372.0L291.8,370.4L292.5,368.5L293.2,367.7L294.0,366.0L294.8,366.1L295.6,364.1L296.4,364.3L297.2,364.1L298.0,363.0L298.8,361.2L299.6,361.8L300.4,361.1L301.2,358.7L302.0,358.0L302.8,357.2L303.6,357.8L304.4,356.3L305.2,355.3L306.0,355.0L306.8,355.8L307.6,354.7L308.4,352.7L309.2,351.8L310.0,352.0L310.8,352.5L311.5,353.8L312.2,356.5L313.0,356.0L313.8,358.4L314.5,360.1L315.2,361.3L316.0,362.0L316.8,363.6L317.6,362.7L318.4,364.4L319.2,366.1L320.0,366.0L320.8,367.1L321.7,366.2L322.5,366.9L323.3,367.6L324.2,367.4L325.0,368.0L325.8,368.2L326.7,367.7L327.5,368.4L328.3,368.7L329.2,368.1L330.0,369.0L330.8,368.6L331.7,370.0L332.5,369.9L333.3,370.3L334.2,370.0L335.0,370.0L335.8,370.6L336.7,370.8L337.5,371.0L338.3,370.1L339.2,371.0L340.0,371.0L340.8,371.1L341.7,371.9L342.5,371.8L343.3,372.4L344.2,373.1L345.0,373.0L345.8,373.4L346.7,373.4L347.5,374.0L348.3,374.3L349.2,375.0L350.0,375.0L350.8,375.2L351.7,375.5L352.5,376.1L353.3,376.1L354.2,376.7L355.0,377.0L355.8,378.0L356.5,378.5L357.2,379.1L358.0,380.0L358.8,380.4L359.6,380.8L360.4,380.8L361.2,381.2L362.0,382.0L362.8,381.6L363.6,381.8L364.4,381.9L365.2,381.8L366.0,382.0L366.8,380.4L367.7,379.0L368.5,378.0L369.3,377.0L370.2,373.0L371.1,369.5L372.0,365.0L372.8,364.2L373.7,363.2L374.5,362.0L375.3,361.5L376.0,359.6L376.8,359.5L377.6,360.3L378.4,359.9L379.2,360.4L380.0,360.5L380.9,360.9L381.7,360.7L382.6,360.5L383.4,360.5L384.3,361.3L385.2,360.9L386.1,361.8L387.0,362.0L387.8,362.0L388.5,362.8L389.2,361.8L390.0,363.2L390.9,364.1L391.8,366.2L392.7,366.3L393.6,367.9L394.6,366.7L395.5,365.3L396.5,364.0L397.4,362.3L398.3,362.7L399.2,360.4L400.0,359.6L400.7,360.5L401.5,359.5L402.3,358.3L403.1,357.7L403.9,358.5L404.8,354.6L405.7,348.3L406.6,349.0L407.5,350.0L408.5,349.1L409.5,351.0L410.5,347.1L411.5,344.0L412.4,340.8L413.2,338.0L414.6,341.5L416.0,344.5L416.8,345.1L417.5,343.0L418.2,343.2L419.0,344.0L419.9,345.3L420.7,344.5L421.6,343.6L422.6,343.0L423.5,344.0L424.5,345.0L425.4,345.0L426.3,346.5L427.2,346.4L428.1,346.1L429.1,346.3L430.0,344.5L430.9,348.3L431.8,350.0L432.8,352.5L433.7,354.8L434.6,354.0L435.6,352.4L436.5,350.0L437.5,352.8L438.5,354.0L439.4,355.7L440.3,357.6L441.2,358.2L442.1,357.8L443.1,358.1L444.0,356.7L444.8,355.8L445.5,358.1L446.3,355.8L447.0,358.2L447.8,357.6L448.7,355.6L449.6,353.0L450.6,350.6L451.5,348.3L452.2,351.9L453.0,352.5L454.3,356.7L455.1,357.2L455.9,357.1L456.6,358.4L457.4,358.9L458.2,358.5L459.0,358.5L459.8,358.8L460.5,359.6L461.3,360.3L462.1,361.6L462.8,361.2L463.6,362.3L465.0,358.0L466.4,353.9L467.2,354.1L467.9,355.2L468.7,355.2L469.4,355.6L470.2,356.7L471.0,354.7L471.7,352.0L472.5,348.0L473.3,345.6L474.0,343.0L474.8,340.8L475.6,339.9L476.4,340.5L477.1,340.1L477.9,341.6L478.7,341.8L479.5,341.7L480.4,341.1L481.4,344.4L482.3,343.2L483.2,344.5L484.0,346.8L484.8,348.1L485.5,349.7L486.3,348.6L487.1,350.5L487.9,352.0L488.7,354.7L489.5,353.3L490.2,354.8L491.0,357.8L491.8,359.0L492.6,360.4L493.5,362.8L494.5,363.8L495.4,364.7L496.3,366.0L497.2,366.4L498.1,365.0L499.1,364.5L500.0,364.0L500.8,364.1L501.7,363.1L502.5,363.0L503.6,362.2L504.7,362.0L505.6,364.7L506.5,367.0L507.4,369.8L508.4,373.0L509.2,374.9L510.0,376.0L510.8,376.2L511.5,376.3L512.2,376.1L513.0,376.5L513.8,375.2L514.5,374.0L515.3,372.9L516.0,371.7L516.8,370.4L517.7,372.2L518.6,373.6L519.6,374.6L520.5,376.0L521.5,378.0L522.8,380.7L524.0,378.0L524.8,378.0L525.5,378.1L526.2,378.3L527.0,378.0L527.8,379.5L528.7,381.4L529.5,383.0L530.6,386.5L531.7,389.0L532.5,390.3L533.2,392.6L534.0,395.0L534.8,397.8L535.6,398.8L536.4,399.3L537.5,398.2L538.5,397.0L539.3,395.2L540.2,396.7L541.0,395.0L542.0,395.1L542.9,395.0L543.9,393.7L544.8,393.3L545.6,391.4L546.5,389.0L547.2,387.7L548.0,386.1L548.8,385.2L549.5,384.4L550.5,382.2L551.5,380.0L552.4,378.5L553.2,377.0L554.0,375.5L554.7,374.1L555.5,373.0L556.3,371.5L557.1,369.8L557.9,368.0L558.8,366.8L559.6,366.9L560.5,365.0L561.2,364.8L562.0,363.1L562.8,363.3L563.5,363.0L564.4,363.3L565.2,361.8L566.1,362.3L567.0,361.5L567.8,359.9L568.5,360.3L569.2,361.2L570.0,360.0L570.8,359.8L571.6,359.5L572.4,357.8L573.1,358.2L573.9,357.9L574.7,357.3L576.0,363.0L576.8,365.8L577.5,369.5L578.5,371.4L579.5,373.0L580.3,373.7L581.2,374.7L582.0,375.0L582.8,374.6L583.5,373.9L584.2,373.2L585.0,373.0L585.8,370.6L586.5,369.4L587.2,366.3L588.0,365.0L589.6,348.0L591.0,340.0L591.9,335.2L592.8,333.0L593.9,333.9L595.0,337.0L596.0,338.8L597.0,340.5L598.0,343.3L599.0,344.0L599.9,345.9L600.8,347.0L601.7,348.5L602.7,346.6L603.6,348.5L604.4,347.5L605.2,350.4L606.1,349.6L606.9,351.3L607.7,351.2L608.6,351.5L609.6,351.7L610.5,353.5L611.2,353.5L612.0,353.6L612.8,356.8L613.5,356.3L614.2,357.3L615.0,357.5L615.8,358.6L616.5,359.5L617.4,360.0L618.4,360.1L619.3,362.0L620.2,363.2L621.1,362.8L621.9,363.9L622.8,363.1L623.7,363.5L624.5,363.4L625.4,362.2L626.2,361.3L627.0,362.0L627.8,361.6L628.5,359.9L629.2,357.0L630.0,356.0L631.0,355.3L632.0,352.0L633.0,351.5L633.9,349.0L635.0,347.6L636.0,347.5L637.1,349.6L638.2,351.0L639.1,354.2L640.0,354.5L641.0,355.9L641.9,357.3L642.8,357.4L643.6,354.0L644.5,353.5L645.2,352.2L646.0,352.4L646.8,349.9L647.5,349.9L648.5,350.8L649.5,353.0L650.2,355.5L651.0,355.5L652.0,353.7L653.0,352.0L654.3,320.0L654.8,285.0L655.6,256.0L657.0,255.0L658.0,257.4L659.0,258.0L660.0,260.2L661.0,264.0L663.0,280.0L664.5,297.0L665.7,308.7L666.5,309.1L667.3,311.0L668.1,311.9L668.9,314.3L669.7,314.2L670.5,310.5L671.3,309.6L672.1,308.7L673.0,307.5L674.0,305.5L675.0,305.9L676.0,309.4L676.9,312.3L677.9,316.0L678.8,319.5L679.8,322.1L680.7,327.3L681.6,324.4L682.5,324.0L683.5,323.9L684.4,321.7L685.3,323.1L686.2,324.6L687.1,326.3L688.0,329.2L688.8,328.1L689.6,327.6L690.3,326.6L691.1,328.2L691.9,327.3L692.8,330.5L693.8,333.7L694.7,338.5L695.6,337.9L696.6,334.7L697.5,334.8L698.4,337.8L699.4,343.3L700.3,346.0L701.2,349.1L702.1,354.5L703.0,359.0L703.8,359.2L704.5,358.4L705.3,355.8L706.0,355.6L706.8,355.3L707.6,358.5L708.3,360.2L709.1,364.2L709.8,365.2L710.6,368.4L711.0,377.0L712.0,421.0L713.4,400.4L715.2,389.0L717.0,402.3L718.0,404.3L718.9,403.4L719.9,404.0L721.8,383.6L722.7,384.6L723.6,386.3L724.6,387.1L725.5,389.2L726.4,388.3L727.4,386.3L728.3,385.5L729.4,387.6L730.5,388.3L731.4,389.4L732.4,389.8L733.3,391.0L734.1,386.9L735.0,383.7L735.8,379.9L737.3,368.0L738.6,361.9L740.0,370.0L740.4,378.0L741.3,379.0L742.1,380.8L743.0,381.7L743.8,381.2L744.6,381.4L745.4,381.3L746.2,380.9L747.0,381.0L747.9,380.8L748.9,379.9L749.8,379.6L750.7,379.0L751.5,372.0L752.3,370.1L753.2,367.7L754.0,366.0L754.8,364.3L755.6,362.1L756.4,360.7L757.2,360.0L758.3,361.2L759.1,362.6L759.9,362.0L760.8,363.4L761.6,362.9L762.4,364.3L763.2,362.6L764.0,360.3L764.8,358.8L765.6,357.0L766.4,358.3L767.2,359.6L767.9,362.1L768.7,364.3L769.5,360.5L770.3,358.0L771.1,353.8L772.0,352.0L772.9,351.0L773.8,348.7L774.8,350.6L775.9,353.9L777.0,357.3L778.0,361.2L778.8,361.9L779.5,361.3L780.2,361.3L781.0,360.0L781.8,361.2L782.6,359.7L783.4,360.4L784.2,361.2L785.0,359.8L785.8,361.0L786.5,360.7L787.3,360.0L788.3,357.1L789.4,355.0L790.5,355.7L791.5,357.0L792.3,358.2L793.0,359.0L793.8,358.6L794.6,360.0L795.4,359.5L796.2,356.7L797.1,356.1L797.9,353.3L798.7,352.9L799.5,351.1L800.2,353.2L801.0,352.1L801.8,350.8L802.6,351.0L803.4,348.3L804.2,347.8L805.0,348.7L805.8,346.6L806.5,345.7L807.2,345.0L808.0,344.6L808.8,344.7L809.6,344.2L810.4,345.6L811.2,346.7L812.1,346.4L813.0,344.3L813.9,344.6L814.3,377.0L814.3,377.0Z" fill="#9425d2" fill-opacity="0.55"/>
<path d="M98.5,377.0L99.2,373.8L100.0,371.0L100.8,369.2L101.5,366.0L102.2,365.5L103.0,363.6L103.8,366.0L104.5,367.0L105.2,368.5L106.0,371.0L107.0,369.9L108.0,369.0L109.0,370.5L110.0,373.0L111.0,373.9L112.0,374.0L112.8,372.9L113.5,371.0L114.2,370.2L115.0,369.0L116.3,373.0L117.0,377.0L118.0,390.0L119.0,399.0L119.8,397.4L120.5,396.0L121.2,393.6L122.0,392.0L123.0,389.6L124.0,386.0L125.0,383.5L126.0,381.0L126.8,380.1L127.6,379.0L129.0,384.0L130.0,388.3L131.0,394.0L132.0,396.2L133.0,400.0L133.9,400.6L134.8,404.0L135.7,403.2L136.5,401.0L137.5,400.2L138.5,399.0L139.2,398.9L140.0,401.0L140.8,399.6L141.5,396.0L142.8,384.0L143.5,372.0L144.0,363.6L144.7,374.0L145.5,381.0L146.3,381.7L147.2,382.9L148.0,384.0L148.8,383.8L149.6,384.3L150.4,385.4L151.2,385.0L152.0,385.5L152.8,385.1L153.7,385.7L154.5,385.5L155.3,386.5L156.2,385.3L157.0,386.0L157.8,386.5L158.7,384.8L159.5,385.8L160.3,385.2L161.2,384.3L162.0,384.5L162.8,384.7L163.5,384.7L164.2,384.9L165.0,385.0L165.8,385.5L166.5,386.8L167.2,387.1L168.0,386.5L168.8,387.4L169.5,386.2L170.2,386.7L171.0,387.9L171.8,386.7L172.5,388.0L173.2,387.4L174.0,388.0L174.8,388.9L175.5,387.1L176.2,388.6L177.0,387.7L177.8,387.3L178.5,387.1L179.2,388.6L180.0,388.0L180.8,388.3L181.5,387.9L182.2,388.6L183.0,389.8L183.8,388.7L184.5,389.6L185.2,389.0L186.0,390.0L186.8,389.4L187.5,390.7L188.2,390.6L189.0,389.6L189.8,389.4L190.5,389.5L191.2,390.7L192.0,390.5L192.8,390.4L193.5,389.9L194.2,389.7L195.0,390.5L195.8,390.6L196.5,390.8L197.2,390.2L198.0,390.0L198.8,389.6L199.6,389.5L200.4,391.1L201.2,390.6L202.0,391.0L202.8,391.7L203.6,390.4L204.4,392.3L205.2,391.4L206.0,392.0L206.8,392.6L207.6,392.4L208.4,391.4L209.2,390.1L210.0,391.0L210.8,392.1L211.6,391.3L212.4,392.4L213.2,391.3L214.0,392.0L214.8,391.1L215.6,392.3L216.4,391.1L217.2,390.5L218.0,391.0L218.8,390.2L219.5,390.2L220.2,388.5L221.0,389.0L222.0,387.0L223.0,385.0L223.8,384.4L224.5,384.0L225.2,383.0L226.0,383.0L226.8,383.1L227.6,383.0L228.4,382.8L229.2,382.0L230.0,382.0L230.8,381.8L231.6,381.1L232.4,381.0L233.2,380.0L234.0,380.0L234.9,378.8L235.8,377.0L236.5,355.0L237.2,354.0L238.0,350.0L239.0,348.0L240.0,346.0L241.0,344.0L242.0,342.0L242.9,340.4L243.8,338.7L244.7,341.0L245.5,343.0L246.2,343.5L247.0,347.0L248.0,349.5L249.0,349.0L249.8,348.0L250.5,348.8L251.2,348.9L252.0,351.0L253.0,349.2L254.0,350.0L255.0,350.2L256.0,352.0L256.8,354.7L257.5,353.9L258.3,357.0L259.1,354.8L260.0,355.0L261.4,354.4L262.3,356.2L263.1,355.9L264.0,358.0L264.9,357.5L265.8,359.8L266.7,360.4L267.6,361.0L268.4,360.1L269.2,359.5L270.0,358.0L270.8,355.5L271.7,356.5L272.5,354.0L273.5,353.7L274.5,352.0L275.8,356.0L277.0,360.0L278.0,366.0L279.0,370.6L280.0,368.0L281.0,366.4L282.0,368.0L283.0,371.0L284.0,373.2L285.0,376.0L285.8,376.2L286.5,376.5L287.2,376.6L288.0,377.0L289.0,377.0L290.0,374.2L291.0,372.0L291.8,370.4L292.5,368.5L293.2,367.7L294.0,366.0L294.8,366.1L295.6,364.1L296.4,364.3L297.2,364.1L298.0,363.0L298.8,361.2L299.6,361.8L300.4,361.1L301.2,358.7L302.0,358.0L302.8,357.2L303.6,357.8L304.4,356.3L305.2,355.3L306.0,355.0L306.8,355.8L307.6,354.7L308.4,352.7L309.2,351.8L310.0,352.0L310.8,352.5L311.5,353.8L312.2,356.5L313.0,356.0L313.8,358.4L314.5,360.1L315.2,361.3L316.0,362.0L316.8,363.6L317.6,362.7L318.4,364.4L319.2,366.1L320.0,366.0L320.8,367.1L321.7,366.2L322.5,366.9L323.3,367.6L324.2,367.4L325.0,368.0L325.8,368.2L326.7,367.7L327.5,368.4L328.3,368.7L329.2,368.1L330.0,369.0L330.8,368.6L331.7,370.0L332.5,369.9L333.3,370.3L334.2,370.0L335.0,370.0L335.8,370.6L336.7,370.8L337.5,371.0L338.3,370.1L339.2,371.0L340.0,371.0L340.8,371.1L341.7,371.9L342.5,371.8L343.3,372.4L344.2,373.1L345.0,373.0L345.8,373.4L346.7,373.4L347.5,374.0L348.3,374.3L349.2,375.0L350.0,375.0L350.8,375.2L351.7,375.5L352.5,376.1L353.3,376.1L354.2,376.7L355.0,377.0L355.8,378.0L356.5,378.5L357.2,379.1L358.0,380.0L358.8,380.4L359.6,380.8L360.4,380.8L361.2,381.2L362.0,382.0L362.8,381.6L363.6,381.8L364.4,381.9L365.2,381.8L366.0,382.0L366.8,380.4L367.7,379.0L368.5,378.0L369.3,377.0L370.2,373.0L371.1,369.5L372.0,365.0L372.8,364.2L373.7,363.2L374.5,362.0L375.3,361.5L376.0,359.6L376.8,359.5L377.6,360.3L378.4,359.9L379.2,360.4L380.0,360.5L380.9,360.9L381.7,360.7L382.6,360.5L383.4,360.5L384.3,361.3L385.2,360.9L386.1,361.8L387.0,362.0L387.8,362.0L388.5,362.8L389.2,361.8L390.0,363.2L390.9,364.1L391.8,366.2L392.7,366.3L393.6,367.9L394.6,366.7L395.5,365.3L396.5,364.0L397.4,362.3L398.3,362.7L399.2,360.4L400.0,359.6L400.7,360.5L401.5,359.5L402.3,358.3L403.1,357.7L403.9,358.5L404.8,354.6L405.7,348.3L406.6,349.0L407.5,350.0L408.5,349.1L409.5,351.0L410.5,347.1L411.5,344.0L412.4,340.8L413.2,338.0L414.6,341.5L416.0,344.5L416.8,345.1L417.5,343.0L418.2,343.2L419.0,344.0L419.9,345.3L420.7,344.5L421.6,343.6L422.6,343.0L423.5,344.0L424.5,345.0L425.4,345.0L426.3,346.5L427.2,346.4L428.1,346.1L429.1,346.3L430.0,344.5L430.9,348.3L431.8,350.0L432.8,352.5L433.7,354.8L434.6,354.0L435.6,352.4L436.5,350.0L437.5,352.8L438.5,354.0L439.4,355.7L440.3,357.6L441.2,358.2L442.1,357.8L443.1,358.1L444.0,356.7L444.8,355.8L445.5,358.1L446.3,355.8L447.0,358.2L447.8,357.6L448.7,355.6L449.6,353.0L450.6,350.6L451.5,348.3L452.2,351.9L453.0,352.5L454.3,356.7L455.1,357.2L455.9,357.1L456.6,358.4L457.4,358.9L458.2,358.5L459.0,358.5L459.8,358.8L460.5,359.6L461.3,360.3L462.1,361.6L462.8,361.2L463.6,362.3L465.0,358.0L466.4,353.9L467.2,354.1L467.9,355.2L468.7,355.2L469.4,355.6L470.2,356.7L471.0,354.7L471.7,352.0L472.5,348.0L473.3,345.6L474.0,343.0L474.8,340.8L475.6,339.9L476.4,340.5L477.1,340.1L477.9,341.6L478.7,341.8L479.5,341.7L480.4,341.1L481.4,344.4L482.3,343.2L483.2,344.5L484.0,346.8L484.8,348.1L485.5,349.7L486.3,348.6L487.1,350.5L487.9,352.0L488.7,354.7L489.5,353.3L490.2,354.8L491.0,357.8L491.8,359.0L492.6,360.4L493.5,362.8L494.5,363.8L495.4,364.7L496.3,366.0L497.2,366.4L498.1,365.0L499.1,364.5L500.0,364.0L500.8,364.1L501.7,363.1L502.5,363.0L503.6,362.2L504.7,362.0L505.6,364.7L506.5,367.0L507.4,369.8L508.4,373.0L509.2,374.9L510.0,376.0L510.8,376.2L511.5,376.3L512.2,376.1L513.0,376.5L513.8,375.2L514.5,374.0L515.3,372.9L516.0,371.7L516.8,370.4L517.7,372.2L518.6,373.6L519.6,374.6L520.5,376.0L521.5,378.0L522.8,380.7L524.0,378.0L524.8,378.0L525.5,378.1L526.2,378.3L527.0,378.0L527.8,379.5L528.7,381.4L529.5,383.0L530.6,386.5L531.7,389.0L532.5,390.3L533.2,392.6L534.0,395.0L534.8,397.8L535.6,398.8L536.4,399.3L537.5,398.2L538.5,397.0L539.3,395.2L540.2,396.7L541.0,395.0L542.0,395.1L542.9,395.0L543.9,393.7L544.8,393.3L545.6,391.4L546.5,389.0L547.2,387.7L548.0,386.1L548.8,385.2L549.5,384.4L550.5,382.2L551.5,380.0L552.4,378.5L553.2,377.0L554.0,375.5L554.7,374.1L555.5,373.0L556.3,371.5L557.1,369.8L557.9,368.0L558.8,366.8L559.6,366.9L560.5,365.0L561.2,364.8L562.0,363.1L562.8,363.3L563.5,363.0L564.4,363.3L565.2,361.8L566.1,362.3L567.0,361.5L567.8,359.9L568.5,360.3L569.2,361.2L570.0,360.0L570.8,359.8L571.6,359.5L572.4,357.8L573.1,358.2L573.9,357.9L574.7,357.3L576.0,363.0L576.8,365.8L577.5,369.5L578.5,371.4L579.5,373.0L580.3,373.7L581.2,374.7L582.0,375.0L582.8,374.6L583.5,373.9L584.2,373.2L585.0,373.0L585.8,370.6L586.5,369.4L587.2,366.3L588.0,365.0L589.6,348.0L591.0,340.0L591.9,335.2L592.8,333.0L593.9,333.9L595.0,337.0L596.0,338.8L597.0,340.5L598.0,343.3L599.0,344.0L599.9,345.9L600.8,347.0L601.7,348.5L602.7,346.6L603.6,348.5L604.4,347.5L605.2,350.4L606.1,349.6L606.9,351.3L607.7,351.2L608.6,351.5L609.6,351.7L610.5,353.5L611.2,353.5L612.0,353.6L612.8,356.8L613.5,356.3L614.2,357.3L615.0,357.5L615.8,358.6L616.5,359.5L617.4,360.0L618.4,360.1L619.3,362.0L620.2,363.2L621.1,362.8L621.9,363.9L622.8,363.1L623.7,363.5L624.5,363.4L625.4,362.2L626.2,361.3L627.0,362.0L627.8,361.6L628.5,359.9L629.2,357.0L630.0,356.0L631.0,355.3L632.0,352.0L633.0,351.5L633.9,349.0L635.0,347.6L636.0,347.5L637.1,349.6L638.2,351.0L639.1,354.2L640.0,354.5L641.0,355.9L641.9,357.3L642.8,357.4L643.6,354.0L644.5,353.5L645.2,352.2L646.0,352.4L646.8,349.9L647.5,349.9L648.5,350.8L649.5,353.0L650.2,355.5L651.0,355.5L652.0,353.7L653.0,352.0L654.3,320.0L654.8,285.0L655.6,256.0L657.0,255.0L658.0,257.4L659.0,258.0L660.0,260.2L661.0,264.0L663.0,280.0L664.5,297.0L665.7,308.7L666.5,309.1L667.3,311.0L668.1,311.9L668.9,314.3L669.7,314.2L670.5,310.5L671.3,309.6L672.1,308.7L673.0,307.5L674.0,305.5L675.0,305.9L676.0,309.4L676.9,312.3L677.9,316.0L678.8,319.5L679.8,322.1L680.7,327.3L681.6,324.4L682.5,324.0L683.5,323.9L684.4,321.7L685.3,323.1L686.2,324.6L687.1,326.3L688.0,329.2L688.8,328.1L689.6,327.6L690.3,326.6L691.1,328.2L691.9,327.3L692.8,330.5L693.8,333.7L694.7,338.5L695.6,337.9L696.6,334.7L697.5,334.8L698.4,337.8L699.4,343.3L700.3,346.0L701.2,349.1L702.1,354.5L703.0,359.0L703.8,359.2L704.5,358.4L705.3,355.8L706.0,355.6L706.8,355.3L707.6,358.5L708.3,360.2L709.1,364.2L709.8,365.2L710.6,368.4L711.0,377.0L712.0,421.0L713.4,400.4L715.2,389.0L717.0,402.3L718.0,404.3L718.9,403.4L719.9,404.0L721.8,383.6L722.7,384.6L723.6,386.3L724.6,387.1L725.5,389.2L726.4,388.3L727.4,386.3L728.3,385.5L729.4,387.6L730.5,388.3L731.4,389.4L732.4,389.8L733.3,391.0L734.1,386.9L735.0,383.7L735.8,379.9L737.3,368.0L738.6,361.9L740.0,370.0L740.4,378.0L741.3,379.0L742.1,380.8L743.0,381.7L743.8,381.2L744.6,381.4L745.4,381.3L746.2,380.9L747.0,381.0L747.9,380.8L748.9,379.9L749.8,379.6L750.7,379.0L751.5,372.0L752.3,370.1L753.2,367.7L754.0,366.0L754.8,364.3L755.6,362.1L756.4,360.7L757.2,360.0L758.3,361.2L759.1,362.6L759.9,362.0L760.8,363.4L761.6,362.9L762.4,364.3L763.2,362.6L764.0,360.3L764.8,358.8L765.6,357.0L766.4,358.3L767.2,359.6L767.9,362.1L768.7,364.3L769.5,360.5L770.3,358.0L771.1,353.8L772.0,352.0L772.9,351.0L773.8,348.7L774.8,350.6L775.9,353.9L777.0,357.3L778.0,361.2L778.8,361.9L779.5,361.3L780.2,361.3L781.0,360.0L781.8,361.2L782.6,359.7L783.4,360.4L784.2,361.2L785.0,359.8L785.8,361.0L786.5,360.7L787.3,360.0L788.3,357.1L789.4,355.0L790.5,355.7L791.5,357.0L792.3,358.2L793.0,359.0L793.8,358.6L794.6,360.0L795.4,359.5L796.2,356.7L797.1,356.1L797.9,353.3L798.7,352.9L799.5,351.1L800.2,353.2L801.0,352.1L801.8,350.8L802.6,351.0L803.4,348.3L804.2,347.8L805.0,348.7L805.8,346.6L806.5,345.7L807.2,345.0L808.0,344.6L808.8,344.7L809.6,344.2L810.4,345.6L811.2,346.7L812.1,346.4L813.0,344.3L813.9,344.6L814.3,377.0" fill="none" stroke="#9425d2" stroke-opacity="0.85" stroke-width="0.8" stroke-linejoin="round"/>
<path d="M152.5,377.0L152.5,377.0L153.5,388.0L154.5,395.8L155.5,393.7L156.5,390.0L157.5,387.6L158.5,385.0L159.3,384.3L160.0,382.7L160.8,382.0L161.6,382.4L162.4,383.2L163.2,383.3L164.0,384.0L164.9,383.1L165.8,383.9L166.6,383.6L167.5,383.0L168.4,383.5L169.2,383.9L170.1,385.8L171.0,386.0L172.0,389.2L173.0,392.0L174.0,394.7L175.0,400.0L176.3,404.0L177.2,399.2L178.0,396.0L178.8,392.5L179.7,391.6L180.5,388.5L181.5,392.1L182.5,397.0L183.6,403.3L184.6,407.0L185.6,409.8L186.5,411.0L187.3,411.5L188.0,415.3L188.8,416.5L189.9,414.4L191.0,413.0L191.8,413.1L192.7,412.7L193.5,411.0L194.3,409.6L195.2,408.4L196.0,409.0L197.0,406.9L198.0,402.0L199.0,396.6L200.0,391.6L200.8,392.7L201.6,392.2L202.4,392.4L203.2,392.7L204.0,392.0L204.8,392.1L205.5,391.4L206.2,390.3L207.0,391.5L207.8,390.7L208.5,390.6L209.4,391.5L210.2,393.3L211.1,392.2L212.0,394.0L212.8,396.0L213.7,395.4L214.5,398.0L215.3,399.3L216.0,400.3L216.8,400.0L217.9,396.3L219.0,394.0L220.0,391.1L221.0,388.0L222.0,386.7L223.0,384.0L223.8,384.0L224.6,383.7L225.4,383.1L226.2,382.7L227.0,383.0L227.8,382.6L228.6,382.5L229.4,382.1L230.2,382.0L231.0,382.0L231.8,381.7L232.6,382.4L233.4,382.5L234.2,382.1L235.0,382.5L235.8,382.0L236.5,382.0L237.3,381.7L238.1,382.0L238.8,381.1L239.6,381.0L240.8,377.0L241.7,368.8L242.5,368.8L243.3,369.9L244.2,369.2L245.0,370.0L245.8,369.3L246.5,368.2L247.2,368.3L248.0,367.0L248.8,367.5L249.6,368.2L250.4,367.7L251.2,368.9L252.0,369.0L252.8,369.1L253.7,368.9L254.5,369.0L255.5,377.0L256.0,391.0L257.0,377.0L258.0,369.0L258.8,368.8L259.6,368.3L260.4,366.6L261.2,366.2L262.0,366.0L262.8,366.2L263.6,366.3L264.4,366.5L265.2,367.2L266.0,368.0L266.8,367.2L267.6,367.7L268.4,367.0L269.2,366.1L270.0,366.5L270.8,366.5L271.6,367.0L272.4,367.2L273.2,367.2L274.0,368.0L274.8,367.6L275.5,367.8L276.2,369.5L277.0,369.0L277.8,370.1L278.5,370.0L279.2,371.5L280.0,372.0L280.8,372.9L281.6,372.9L282.4,372.8L283.2,373.6L284.0,374.0L284.8,374.2L285.5,374.3L286.2,374.8L287.0,375.0L287.8,373.6L288.6,373.4L289.4,372.0L290.2,369.2L291.0,366.0L291.8,363.3L292.6,360.0L294.0,350.0L295.7,338.4L296.5,338.7L297.2,336.6L298.0,335.0L299.0,332.2L300.0,331.0L301.0,329.2L302.0,329.0L303.0,329.8L304.0,333.0L305.0,333.1L306.0,336.3L307.0,334.0L308.0,330.0L308.9,327.3L309.8,322.4L311.0,328.0L312.3,335.3L313.5,344.0L314.8,352.0L316.0,349.0L316.8,347.2L317.5,346.7L318.5,346.3L319.5,348.0L320.6,348.3L321.6,347.7L322.6,347.0L323.5,344.0L324.3,344.2L325.0,340.6L325.8,340.5L326.9,339.2L328.0,336.0L328.8,335.8L329.5,334.3L330.2,331.7L331.0,331.0L331.8,333.0L332.5,337.0L333.2,341.3L334.0,343.6L334.8,344.3L335.6,345.8L336.4,347.7L337.2,348.8L338.1,346.5L339.0,345.0L339.8,344.9L340.5,341.8L341.3,341.5L342.1,342.3L343.0,346.0L343.8,348.1L344.5,349.8L345.5,347.6L346.5,344.6L347.5,351.0L348.6,358.0L349.4,359.2L350.2,359.2L351.0,359.0L351.9,360.4L352.9,360.8L353.8,360.0L354.6,361.6L355.4,363.2L356.2,364.1L357.0,366.4L357.8,366.2L358.5,366.8L359.2,366.1L360.0,367.0L360.8,367.1L361.5,365.9L362.2,366.1L363.0,366.0L364.0,365.9L365.0,364.0L366.0,359.0L367.0,356.0L368.5,345.0L369.5,341.5L370.5,348.0L371.2,353.0L372.1,350.5L373.1,350.8L374.0,350.0L374.9,347.6L375.9,348.0L376.8,344.3L377.7,344.5L378.5,346.1L379.2,346.6L380.0,346.0L380.8,346.8L381.6,345.4L382.4,345.5L383.3,344.6L384.2,345.5L385.1,344.8L386.0,344.5L386.8,344.9L387.5,345.2L388.2,346.2L389.0,347.0L389.9,347.9L390.9,348.7L391.8,349.3L392.7,348.3L393.5,346.1L394.2,345.4L395.0,345.0L395.8,343.7L396.5,343.0L397.3,341.7L398.2,340.6L399.1,339.6L400.0,340.0L400.8,338.2L401.5,338.4L402.2,338.4L403.0,338.0L403.8,338.8L404.7,338.0L405.5,336.0L406.6,336.7L407.6,335.0L408.6,334.5L409.5,331.0L410.4,329.9L411.3,325.9L412.5,331.0L413.2,333.9L414.0,336.0L415.0,339.0L416.0,340.0L416.9,340.8L417.9,344.5L419.3,340.0L420.7,337.0L421.6,339.6L422.5,341.0L423.4,342.6L424.4,343.6L425.4,339.2L426.5,336.0L427.6,332.1L428.7,327.7L430.0,330.0L430.9,332.6L431.9,332.4L432.9,332.6L434.0,333.0L434.8,333.9L435.7,333.2L436.5,334.3L437.5,335.1L438.5,337.0L439.4,339.7L440.3,339.9L441.4,338.9L442.5,341.0L443.3,340.6L444.2,342.7L445.0,342.7L445.8,342.8L446.7,341.9L447.5,343.5L448.6,344.5L449.6,344.5L450.5,340.0L451.5,337.0L452.5,341.0L453.4,345.5L454.4,344.3L455.5,344.0L456.3,344.1L457.2,343.5L458.0,343.6L459.0,337.8L459.9,336.1L460.9,334.4L461.8,332.4L462.9,329.4L464.0,327.0L464.8,324.4L465.6,323.2L466.4,322.8L467.4,319.6L468.5,314.0L469.3,310.8L470.2,306.1L471.0,304.0L471.8,304.2L472.7,301.2L473.5,301.0L474.3,298.9L475.0,299.4L475.8,298.5L476.9,296.5L478.0,296.0L478.8,295.1L479.6,294.4L480.4,293.3L481.8,297.0L483.2,300.4L484.6,303.0L486.0,306.0L487.4,313.0L488.8,321.0L489.8,322.6L490.7,326.0L491.6,328.4L492.6,330.3L493.6,331.4L494.5,335.0L495.4,336.9L496.3,338.7L497.2,337.8L498.1,335.0L499.0,335.2L499.8,335.5L500.7,335.0L501.5,337.0L502.3,337.1L503.0,338.8L503.8,338.0L504.7,335.8L505.6,333.3L507.0,338.0L508.4,343.6L510.3,357.3L511.2,357.3L512.1,356.9L513.0,355.5L513.8,353.9L514.5,356.3L515.3,355.1L516.0,352.7L516.8,353.6L517.7,355.1L518.6,354.2L519.5,355.0L520.5,354.5L521.4,357.3L522.4,356.4L523.3,356.5L524.2,357.0L525.1,355.0L526.0,356.0L526.8,356.7L527.6,354.5L528.3,354.9L529.1,355.2L529.9,355.5L530.7,357.4L531.5,362.0L532.5,365.9L533.6,369.5L534.5,369.2L535.4,369.4L536.2,370.1L537.1,369.8L538.0,370.0L538.8,370.6L539.7,370.3L540.5,370.7L541.3,370.3L542.2,370.9L543.0,370.4L543.9,370.3L544.8,368.7L545.6,369.0L546.5,368.0L547.3,367.1L548.1,367.2L548.8,366.4L549.6,366.1L550.4,364.8L551.3,363.6L552.1,363.7L553.0,363.5L553.8,363.6L554.5,363.7L555.2,362.9L556.0,362.0L556.8,359.5L557.7,359.6L558.5,358.0L559.6,355.1L560.7,354.5L561.5,354.0L562.2,354.1L563.0,352.5L563.8,350.7L564.5,352.7L565.3,350.8L566.6,354.0L568.0,357.3L568.8,356.7L569.5,355.0L570.2,353.5L571.0,353.6L572.0,353.1L573.0,354.5L573.9,354.8L574.7,355.5L576.0,362.0L576.8,366.4L577.5,369.5L578.4,371.3L579.3,373.0L580.2,374.2L581.2,376.0L582.5,381.0L583.3,381.9L584.2,383.4L585.0,385.3L585.8,384.3L586.7,382.1L587.5,381.0L588.2,379.0L589.0,377.0L590.5,368.0L591.3,365.3L592.2,363.7L593.0,361.0L593.8,360.3L594.6,359.3L595.4,360.8L596.2,359.5L597.0,359.0L597.8,359.3L598.6,359.4L599.4,359.6L600.2,356.9L601.0,358.0L601.8,357.0L602.6,355.8L603.4,356.2L604.2,356.7L605.0,355.0L605.9,355.2L606.8,352.0L607.6,351.7L608.5,352.0L609.4,352.5L610.2,351.5L611.1,350.1L612.0,349.9L612.8,349.0L613.5,347.2L614.3,348.7L615.0,346.4L615.8,346.0L616.7,347.9L617.7,347.7L618.6,348.0L619.4,344.0L620.2,342.1L621.0,340.0L622.1,335.4L623.2,332.7L624.1,335.6L625.0,336.0L626.0,337.6L627.0,338.7L628.0,338.4L629.0,341.0L629.9,341.1L630.7,343.3L631.6,342.2L632.5,342.0L633.5,341.1L634.4,340.5L635.5,343.0L636.5,345.0L637.3,346.3L638.2,347.8L639.0,349.9L640.0,342.0L641.0,335.0L642.4,330.0L643.8,325.6L645.0,315.0L646.0,305.0L647.0,300.4L648.0,299.0L649.0,297.6L649.9,295.6L650.7,297.3L651.5,300.0L652.5,301.0L653.6,305.0L654.3,290.0L654.9,240.0L655.8,100.0L656.6,130.0L657.6,160.0L658.4,190.0L659.5,205.0L661.0,215.0L663.9,235.0L664.8,255.0L665.7,272.3L666.5,272.4L667.2,274.3L668.0,273.0L668.8,271.9L669.6,272.5L670.4,274.0L671.8,278.0L673.2,281.6L674.5,272.0L675.6,264.8L676.8,270.0L677.9,276.0L679.0,286.0L679.7,294.7L680.6,296.9L681.5,298.0L682.5,298.4L683.5,300.3L684.5,297.9L685.5,297.0L686.4,295.9L687.2,294.7L688.1,291.6L689.0,290.0L690.0,287.9L691.0,285.3L691.8,287.2L692.5,289.0L693.8,292.8L694.7,294.9L695.6,295.6L696.5,294.7L697.5,288.0L698.4,283.5L699.5,291.0L700.7,298.4L702.0,310.5L704.0,323.6L704.8,322.3L705.5,324.2L706.2,325.1L707.0,324.5L707.9,326.0L708.7,326.0L709.6,325.5L711.0,320.0L711.9,318.4L712.8,316.0L713.6,318.9L714.5,321.0L715.2,322.8L716.0,325.5L716.8,324.6L717.5,325.9L718.2,325.9L719.0,324.5L719.9,325.6L720.9,324.5L721.8,323.6L722.9,324.4L724.0,326.5L724.8,328.2L725.6,329.1L726.4,329.2L727.3,328.7L728.1,328.5L729.0,327.5L729.8,326.7L730.5,327.1L731.2,326.4L732.0,326.4L733.0,326.0L734.0,328.5L734.9,328.7L735.8,330.0L737.2,325.0L738.6,320.8L739.4,321.3L740.2,324.5L741.0,324.0L742.1,325.6L743.2,327.3L744.1,327.4L745.1,327.6L746.0,329.0L746.9,328.5L747.9,329.2L748.8,330.0L749.7,327.2L750.6,325.1L751.5,325.0L752.3,324.8L753.2,322.1L754.0,320.8L754.8,323.2L755.6,326.0L756.5,327.7L757.3,329.0L758.3,336.0L759.3,342.5L760.1,342.4L760.8,342.5L761.6,342.7L762.4,344.6L763.5,341.9L764.5,340.4L765.5,342.9L766.6,346.7L767.3,362.0L767.8,377.0L768.8,410.7L770.3,394.8L771.2,390.6L772.2,385.5L773.1,381.8L774.0,378.0L775.0,380.7L775.9,382.7L777.0,381.7L778.0,381.0L779.0,380.9L780.0,380.0L780.8,379.6L781.5,378.7L782.2,378.3L783.0,378.0L783.8,377.5L784.5,377.2L785.2,376.4L786.0,376.0L786.8,375.7L787.5,374.9L788.2,374.8L789.0,374.0L789.8,370.8L790.7,368.6L791.5,366.0L792.5,356.0L793.5,348.7L794.6,342.5L796.0,349.8L798.0,337.3L799.8,349.8L800.6,350.6L801.3,348.0L802.1,347.4L802.9,347.7L803.8,344.1L804.7,342.5L805.6,341.5L806.4,338.0L807.2,336.6L808.0,333.2L809.0,332.8L810.0,334.2L811.1,333.4L812.2,333.2L813.0,330.6L813.9,330.0L814.3,377.0L814.3,377.0Z" fill="#52b1db" fill-opacity="0.55"/>
<path d="M152.5,377.0L153.5,388.0L154.5,395.8L155.5,393.7L156.5,390.0L157.5,387.6L158.5,385.0L159.3,384.3L160.0,382.7L160.8,382.0L161.6,382.4L162.4,383.2L163.2,383.3L164.0,384.0L164.9,383.1L165.8,383.9L166.6,383.6L167.5,383.0L168.4,383.5L169.2,383.9L170.1,385.8L171.0,386.0L172.0,389.2L173.0,392.0L174.0,394.7L175.0,400.0L176.3,404.0L177.2,399.2L178.0,396.0L178.8,392.5L179.7,391.6L180.5,388.5L181.5,392.1L182.5,397.0L183.6,403.3L184.6,407.0L185.6,409.8L186.5,411.0L187.3,411.5L188.0,415.3L188.8,416.5L189.9,414.4L191.0,413.0L191.8,413.1L192.7,412.7L193.5,411.0L194.3,409.6L195.2,408.4L196.0,409.0L197.0,406.9L198.0,402.0L199.0,396.6L200.0,391.6L200.8,392.7L201.6,392.2L202.4,392.4L203.2,392.7L204.0,392.0L204.8,392.1L205.5,391.4L206.2,390.3L207.0,391.5L207.8,390.7L208.5,390.6L209.4,391.5L210.2,393.3L211.1,392.2L212.0,394.0L212.8,396.0L213.7,395.4L214.5,398.0L215.3,399.3L216.0,400.3L216.8,400.0L217.9,396.3L219.0,394.0L220.0,391.1L221.0,388.0L222.0,386.7L223.0,384.0L223.8,384.0L224.6,383.7L225.4,383.1L226.2,382.7L227.0,383.0L227.8,382.6L228.6,382.5L229.4,382.1L230.2,382.0L231.0,382.0L231.8,381.7L232.6,382.4L233.4,382.5L234.2,382.1L235.0,382.5L235.8,382.0L236.5,382.0L237.3,381.7L238.1,382.0L238.8,381.1L239.6,381.0L240.8,377.0L241.7,368.8L242.5,368.8L243.3,369.9L244.2,369.2L245.0,370.0L245.8,369.3L246.5,368.2L247.2,368.3L248.0,367.0L248.8,367.5L249.6,368.2L250.4,367.7L251.2,368.9L252.0,369.0L252.8,369.1L253.7,368.9L254.5,369.0L255.5,377.0L256.0,391.0L257.0,377.0L258.0,369.0L258.8,368.8L259.6,368.3L260.4,366.6L261.2,366.2L262.0,366.0L262.8,366.2L263.6,366.3L264.4,366.5L265.2,367.2L266.0,368.0L266.8,367.2L267.6,367.7L268.4,367.0L269.2,366.1L270.0,366.5L270.8,366.5L271.6,367.0L272.4,367.2L273.2,367.2L274.0,368.0L274.8,367.6L275.5,367.8L276.2,369.5L277.0,369.0L277.8,370.1L278.5,370.0L279.2,371.5L280.0,372.0L280.8,372.9L281.6,372.9L282.4,372.8L283.2,373.6L284.0,374.0L284.8,374.2L285.5,374.3L286.2,374.8L287.0,375.0L287.8,373.6L288.6,373.4L289.4,372.0L290.2,369.2L291.0,366.0L291.8,363.3L292.6,360.0L294.0,350.0L295.7,338.4L296.5,338.7L297.2,336.6L298.0,335.0L299.0,332.2L300.0,331.0L301.0,329.2L302.0,329.0L303.0,329.8L304.0,333.0L305.0,333.1L306.0,336.3L307.0,334.0L308.0,330.0L308.9,327.3L309.8,322.4L311.0,328.0L312.3,335.3L313.5,344.0L314.8,352.0L316.0,349.0L316.8,347.2L317.5,346.7L318.5,346.3L319.5,348.0L320.6,348.3L321.6,347.7L322.6,347.0L323.5,344.0L324.3,344.2L325.0,340.6L325.8,340.5L326.9,339.2L328.0,336.0L328.8,335.8L329.5,334.3L330.2,331.7L331.0,331.0L331.8,333.0L332.5,337.0L333.2,341.3L334.0,343.6L334.8,344.3L335.6,345.8L336.4,347.7L337.2,348.8L338.1,346.5L339.0,345.0L339.8,344.9L340.5,341.8L341.3,341.5L342.1,342.3L343.0,346.0L343.8,348.1L344.5,349.8L345.5,347.6L346.5,344.6L347.5,351.0L348.6,358.0L349.4,359.2L350.2,359.2L351.0,359.0L351.9,360.4L352.9,360.8L353.8,360.0L354.6,361.6L355.4,363.2L356.2,364.1L357.0,366.4L357.8,366.2L358.5,366.8L359.2,366.1L360.0,367.0L360.8,367.1L361.5,365.9L362.2,366.1L363.0,366.0L364.0,365.9L365.0,364.0L366.0,359.0L367.0,356.0L368.5,345.0L369.5,341.5L370.5,348.0L371.2,353.0L372.1,350.5L373.1,350.8L374.0,350.0L374.9,347.6L375.9,348.0L376.8,344.3L377.7,344.5L378.5,346.1L379.2,346.6L380.0,346.0L380.8,346.8L381.6,345.4L382.4,345.5L383.3,344.6L384.2,345.5L385.1,344.8L386.0,344.5L386.8,344.9L387.5,345.2L388.2,346.2L389.0,347.0L389.9,347.9L390.9,348.7L391.8,349.3L392.7,348.3L393.5,346.1L394.2,345.4L395.0,345.0L395.8,343.7L396.5,343.0L397.3,341.7L398.2,340.6L399.1,339.6L400.0,340.0L400.8,338.2L401.5,338.4L402.2,338.4L403.0,338.0L403.8,338.8L404.7,338.0L405.5,336.0L406.6,336.7L407.6,335.0L408.6,334.5L409.5,331.0L410.4,329.9L411.3,325.9L412.5,331.0L413.2,333.9L414.0,336.0L415.0,339.0L416.0,340.0L416.9,340.8L417.9,344.5L419.3,340.0L420.7,337.0L421.6,339.6L422.5,341.0L423.4,342.6L424.4,343.6L425.4,339.2L426.5,336.0L427.6,332.1L428.7,327.7L430.0,330.0L430.9,332.6L431.9,332.4L432.9,332.6L434.0,333.0L434.8,333.9L435.7,333.2L436.5,334.3L437.5,335.1L438.5,337.0L439.4,339.7L440.3,339.9L441.4,338.9L442.5,341.0L443.3,340.6L444.2,342.7L445.0,342.7L445.8,342.8L446.7,341.9L447.5,343.5L448.6,344.5L449.6,344.5L450.5,340.0L451.5,337.0L452.5,341.0L453.4,345.5L454.4,344.3L455.5,344.0L456.3,344.1L457.2,343.5L458.0,343.6L459.0,337.8L459.9,336.1L460.9,334.4L461.8,332.4L462.9,329.4L464.0,327.0L464.8,324.4L465.6,323.2L466.4,322.8L467.4,319.6L468.5,314.0L469.3,310.8L470.2,306.1L471.0,304.0L471.8,304.2L472.7,301.2L473.5,301.0L474.3,298.9L475.0,299.4L475.8,298.5L476.9,296.5L478.0,296.0L478.8,295.1L479.6,294.4L480.4,293.3L481.8,297.0L483.2,300.4L484.6,303.0L486.0,306.0L487.4,313.0L488.8,321.0L489.8,322.6L490.7,326.0L491.6,328.4L492.6,330.3L493.6,331.4L494.5,335.0L495.4,336.9L496.3,338.7L497.2,337.8L498.1,335.0L499.0,335.2L499.8,335.5L500.7,335.0L501.5,337.0L502.3,337.1L503.0,338.8L503.8,338.0L504.7,335.8L505.6,333.3L507.0,338.0L508.4,343.6L510.3,357.3L511.2,357.3L512.1,356.9L513.0,355.5L513.8,353.9L514.5,356.3L515.3,355.1L516.0,352.7L516.8,353.6L517.7,355.1L518.6,354.2L519.5,355.0L520.5,354.5L521.4,357.3L522.4,356.4L523.3,356.5L524.2,357.0L525.1,355.0L526.0,356.0L526.8,356.7L527.6,354.5L528.3,354.9L529.1,355.2L529.9,355.5L530.7,357.4L531.5,362.0L532.5,365.9L533.6,369.5L534.5,369.2L535.4,369.4L536.2,370.1L537.1,369.8L538.0,370.0L538.8,370.6L539.7,370.3L540.5,370.7L541.3,370.3L542.2,370.9L543.0,370.4L543.9,370.3L544.8,368.7L545.6,369.0L546.5,368.0L547.3,367.1L548.1,367.2L548.8,366.4L549.6,366.1L550.4,364.8L551.3,363.6L552.1,363.7L553.0,363.5L553.8,363.6L554.5,363.7L555.2,362.9L556.0,362.0L556.8,359.5L557.7,359.6L558.5,358.0L559.6,355.1L560.7,354.5L561.5,354.0L562.2,354.1L563.0,352.5L563.8,350.7L564.5,352.7L565.3,350.8L566.6,354.0L568.0,357.3L568.8,356.7L569.5,355.0L570.2,353.5L571.0,353.6L572.0,353.1L573.0,354.5L573.9,354.8L574.7,355.5L576.0,362.0L576.8,366.4L577.5,369.5L578.4,371.3L579.3,373.0L580.2,374.2L581.2,376.0L582.5,381.0L583.3,381.9L584.2,383.4L585.0,385.3L585.8,384.3L586.7,382.1L587.5,381.0L588.2,379.0L589.0,377.0L590.5,368.0L591.3,365.3L592.2,363.7L593.0,361.0L593.8,360.3L594.6,359.3L595.4,360.8L596.2,359.5L597.0,359.0L597.8,359.3L598.6,359.4L599.4,359.6L600.2,356.9L601.0,358.0L601.8,357.0L602.6,355.8L603.4,356.2L604.2,356.7L605.0,355.0L605.9,355.2L606.8,352.0L607.6,351.7L608.5,352.0L609.4,352.5L610.2,351.5L611.1,350.1L612.0,349.9L612.8,349.0L613.5,347.2L614.3,348.7L615.0,346.4L615.8,346.0L616.7,347.9L617.7,347.7L618.6,348.0L619.4,344.0L620.2,342.1L621.0,340.0L622.1,335.4L623.2,332.7L624.1,335.6L625.0,336.0L626.0,337.6L627.0,338.7L628.0,338.4L629.0,341.0L629.9,341.1L630.7,343.3L631.6,342.2L632.5,342.0L633.5,341.1L634.4,340.5L635.5,343.0L636.5,345.0L637.3,346.3L638.2,347.8L639.0,349.9L640.0,342.0L641.0,335.0L642.4,330.0L643.8,325.6L645.0,315.0L646.0,305.0L647.0,300.4L648.0,299.0L649.0,297.6L649.9,295.6L650.7,297.3L651.5,300.0L652.5,301.0L653.6,305.0L654.3,290.0L654.9,240.0L655.8,100.0L656.6,130.0L657.6,160.0L658.4,190.0L659.5,205.0L661.0,215.0L663.9,235.0L664.8,255.0L665.7,272.3L666.5,272.4L667.2,274.3L668.0,273.0L668.8,271.9L669.6,272.5L670.4,274.0L671.8,278.0L673.2,281.6L674.5,272.0L675.6,264.8L676.8,270.0L677.9,276.0L679.0,286.0L679.7,294.7L680.6,296.9L681.5,298.0L682.5,298.4L683.5,300.3L684.5,297.9L685.5,297.0L686.4,295.9L687.2,294.7L688.1,291.6L689.0,290.0L690.0,287.9L691.0,285.3L691.8,287.2L692.5,289.0L693.8,292.8L694.7,294.9L695.6,295.6L696.5,294.7L697.5,288.0L698.4,283.5L699.5,291.0L700.7,298.4L702.0,310.5L704.0,323.6L704.8,322.3L705.5,324.2L706.2,325.1L707.0,324.5L707.9,326.0L708.7,326.0L709.6,325.5L711.0,320.0L711.9,318.4L712.8,316.0L713.6,318.9L714.5,321.0L715.2,322.8L716.0,325.5L716.8,324.6L717.5,325.9L718.2,325.9L719.0,324.5L719.9,325.6L720.9,324.5L721.8,323.6L722.9,324.4L724.0,326.5L724.8,328.2L725.6,329.1L726.4,329.2L727.3,328.7L728.1,328.5L729.0,327.5L729.8,326.7L730.5,327.1L731.2,326.4L732.0,326.4L733.0,326.0L734.0,328.5L734.9,328.7L735.8,330.0L737.2,325.0L738.6,320.8L739.4,321.3L740.2,324.5L741.0,324.0L742.1,325.6L743.2,327.3L744.1,327.4L745.1,327.6L746.0,329.0L746.9,328.5L747.9,329.2L748.8,330.0L749.7,327.2L750.6,325.1L751.5,325.0L752.3,324.8L753.2,322.1L754.0,320.8L754.8,323.2L755.6,326.0L756.5,327.7L757.3,329.0L758.3,336.0L759.3,342.5L760.1,342.4L760.8,342.5L761.6,342.7L762.4,344.6L763.5,341.9L764.5,340.4L765.5,342.9L766.6,346.7L767.3,362.0L767.8,377.0L768.8,410.7L770.3,394.8L771.2,390.6L772.2,385.5L773.1,381.8L774.0,378.0L775.0,380.7L775.9,382.7L777.0,381.7L778.0,381.0L779.0,380.9L780.0,380.0L780.8,379.6L781.5,378.7L782.2,378.3L783.0,378.0L783.8,377.5L784.5,377.2L785.2,376.4L786.0,376.0L786.8,375.7L787.5,374.9L788.2,374.8L789.0,374.0L789.8,370.8L790.7,368.6L791.5,366.0L792.5,356.0L793.5,348.7L794.6,342.5L796.0,349.8L798.0,337.3L799.8,349.8L800.6,350.6L801.3,348.0L802.1,347.4L802.9,347.7L803.8,344.1L804.7,342.5L805.6,341.5L806.4,338.0L807.2,336.6L808.0,333.2L809.0,332.8L810.0,334.2L811.1,333.4L812.2,333.2L813.0,330.6L813.9,330.0L814.3,377.0" fill="none" stroke="#52b1db" stroke-opacity="0.85" stroke-width="0.8" stroke-linejoin="round"/>
<path d="M270.0,377.0L270.0,377.0L271.0,375.6L272.0,374.0L272.8,373.8L273.5,373.1L274.2,372.2L275.0,372.0L275.8,371.6L276.5,371.3L277.2,370.3L278.0,369.5L278.8,369.4L279.6,370.9L280.4,371.5L281.2,371.3L282.0,372.0L282.8,371.4L283.6,371.2L284.4,371.4L285.2,371.6L286.0,371.0L286.8,371.9L287.5,372.9L288.2,373.0L289.0,374.0L289.8,376.9L290.5,380.0L292.0,390.0L292.8,394.4L293.6,397.6L295.0,392.0L295.8,388.3L296.5,384.0L297.7,378.0L298.5,377.0L299.2,376.1L300.0,375.0L300.8,375.1L301.5,375.2L302.2,375.7L303.0,376.0L304.0,380.1L305.0,385.0L305.8,381.6L306.5,378.0L307.3,376.6L308.2,375.3L309.0,374.0L309.8,374.6L310.5,374.8L311.2,375.5L312.0,376.0L313.0,377.7L314.0,380.0L315.4,388.0L316.0,375.0L316.5,362.3L317.4,363.4L318.2,362.8L319.1,363.9L319.9,362.0L320.8,363.4L321.6,363.3L322.5,363.5L323.3,362.3L324.1,361.4L325.0,362.0L325.8,361.0L326.6,360.8L327.4,362.1L328.2,360.4L329.0,361.2L329.8,361.4L330.5,359.9L331.2,359.7L332.0,359.0L332.8,358.7L333.5,358.2L334.2,357.9L335.0,357.0L335.8,356.9L336.5,355.7L337.2,356.6L338.0,355.5L338.8,354.1L339.6,354.9L340.5,354.5L341.3,353.0L342.1,355.4L343.0,356.0L343.8,356.4L344.7,358.8L345.5,359.0L346.5,361.7L347.5,362.0L348.6,363.6L349.6,365.4L350.5,365.1L351.3,365.7L352.1,366.7L353.0,366.0L354.0,365.5L354.9,365.4L355.9,366.4L356.9,364.3L358.0,362.3L359.0,363.5L360.0,364.0L360.9,361.3L361.9,356.9L362.8,353.9L363.7,357.5L364.7,357.5L365.6,360.4L366.4,358.3L367.2,353.5L368.0,352.0L368.8,347.4L369.5,344.6L370.3,342.7L372.0,353.9L372.8,349.9L373.7,348.6L374.5,346.0L375.3,344.1L376.0,340.9L376.8,339.9L377.7,340.8L378.6,338.5L379.6,337.4L380.5,338.0L381.3,336.0L382.2,336.8L383.0,335.0L384.1,334.6L385.2,331.5L386.0,331.6L386.7,332.3L387.5,335.0L388.3,337.1L389.2,336.5L390.0,338.5L390.9,339.9L391.8,338.2L392.7,338.6L393.6,338.0L394.5,336.3L395.3,336.5L396.1,334.1L397.0,333.0L397.8,331.4L398.5,332.3L399.2,328.7L400.0,329.0L401.0,330.0L402.0,329.6L402.9,325.0L403.9,323.7L404.8,320.0L405.7,319.3L406.5,321.2L407.2,324.9L408.0,326.0L408.8,322.6L409.5,322.0L410.0,293.0L411.0,280.0L411.8,276.6L412.6,272.8L413.6,274.1L414.5,276.0L415.2,276.8L416.0,275.0L417.9,287.0L419.3,280.0L420.7,276.0L422.5,288.0L423.3,287.8L424.2,285.1L425.0,283.0L425.8,282.5L426.5,283.0L427.2,283.4L428.0,284.5L428.8,286.1L429.7,287.3L430.5,290.0L431.3,290.7L432.0,294.0L432.8,294.8L433.7,293.3L434.6,290.3L435.5,289.0L436.5,289.4L437.4,285.8L438.4,285.5L439.2,283.5L440.0,281.0L441.0,280.8L442.0,282.7L442.8,285.0L443.7,286.1L444.5,286.0L445.3,284.2L446.0,284.6L446.8,282.7L447.7,285.8L448.7,286.2L449.6,289.0L450.6,289.0L451.5,290.0L453.4,304.0L454.3,302.1L455.1,301.6L456.0,298.5L457.0,306.0L458.0,299.8L459.0,295.7L459.9,297.9L460.9,299.1L461.8,300.4L462.7,297.1L463.6,294.4L464.5,291.0L465.5,289.1L466.4,283.9L467.4,281.7L468.3,284.8L469.1,285.0L470.0,287.3L470.8,287.3L471.5,286.6L472.2,283.5L473.0,283.6L473.9,283.2L474.9,282.1L475.8,279.0L476.6,276.9L477.4,274.5L478.2,273.3L479.0,273.0L479.8,273.7L480.6,269.7L481.5,271.8L482.3,269.6L483.1,269.7L483.9,272.8L484.7,273.3L485.8,262.0L486.8,243.5L487.6,262.0L488.8,282.7L489.8,284.1L490.7,288.0L491.6,289.4L492.6,293.0L493.6,284.0L494.2,279.9L494.8,294.8L495.9,294.0L497.0,292.0L498.0,291.6L499.0,293.9L500.0,294.9L501.0,297.0L501.9,299.6L502.8,299.5L503.7,298.6L504.7,297.6L505.6,294.8L506.6,299.9L507.5,302.0L508.4,305.3L509.4,311.6L510.3,309.8L511.1,310.7L512.0,308.8L513.0,306.0L514.0,302.0L515.0,298.8L516.0,298.5L516.9,300.1L517.8,300.9L518.7,303.2L519.6,305.0L520.6,301.4L521.5,298.8L522.5,298.0L523.4,297.9L524.3,294.1L525.2,293.0L526.0,295.9L526.7,295.1L527.5,298.0L528.3,300.0L529.1,300.8L529.9,304.0L531.5,315.0L532.7,324.7L533.6,326.3L534.5,328.4L535.4,328.6L536.4,331.4L537.3,332.0L538.4,332.1L539.5,334.5L540.2,334.5L541.0,333.0L542.0,330.0L543.5,318.0L544.4,312.5L545.3,313.0L546.1,312.3L547.0,314.0L547.9,313.9L548.7,314.6L549.5,316.3L550.4,315.3L551.2,314.6L551.9,314.0L552.7,316.1L553.5,315.7L554.2,315.0L555.0,314.0L555.8,313.3L556.6,313.1L557.4,313.4L558.1,312.9L558.9,312.9L559.7,314.4L560.5,313.0L561.2,311.2L562.0,310.0L562.8,309.2L563.6,307.6L564.4,307.0L565.5,307.4L566.5,311.0L567.3,312.7L568.2,313.8L569.0,314.4L569.8,314.7L570.5,314.9L571.3,315.5L572.0,316.7L572.8,315.3L573.7,314.3L574.7,311.7L575.6,308.8L576.5,310.6L577.5,313.0L578.4,314.5L579.3,317.2L580.2,316.2L581.1,317.2L582.0,315.0L583.0,313.9L584.0,313.5L584.8,309.4L585.5,306.0L586.8,296.7L588.0,280.0L589.2,267.7L590.1,270.7L591.0,274.3L592.0,269.9L593.0,267.7L593.8,270.2L594.5,269.5L595.2,269.4L596.0,272.4L596.8,276.5L597.5,280.0L598.2,285.0L599.0,287.3L599.9,285.3L600.9,285.2L601.8,283.6L603.0,292.0L603.8,295.8L604.6,300.4L605.4,298.8L606.2,297.8L607.0,298.0L608.0,296.6L609.0,297.6L609.8,300.0L610.7,301.1L611.5,301.5L612.3,303.6L613.1,301.7L613.9,304.0L614.7,304.1L615.5,302.4L616.2,303.0L617.0,302.0L617.8,301.6L618.7,300.3L619.5,300.4L620.5,299.2L621.5,295.0L622.2,290.9L623.0,290.0L624.0,296.0L625.0,300.4L625.8,301.9L626.5,301.2L627.2,301.9L628.0,302.0L628.9,304.2L629.8,302.5L630.7,304.0L631.6,305.4L632.6,306.8L633.5,307.0L634.4,307.5L635.4,309.5L636.3,309.7L637.4,311.0L638.5,313.0L639.7,317.2L640.5,327.0L641.3,318.0L641.9,306.0L643.3,294.0L644.7,285.5L645.6,283.3L646.5,281.0L647.5,279.9L648.4,278.0L650.3,290.0L651.7,285.0L653.0,281.7L654.2,270.0L654.7,200.0L655.5,85.6L656.5,110.0L657.8,150.0L658.6,185.0L659.5,194.0L660.2,195.8L661.0,196.5L661.8,196.3L662.5,197.6L663.3,197.6L664.5,208.0L665.7,224.0L667.0,244.3L667.8,241.8L668.5,239.0L669.2,236.6L670.0,235.9L670.8,237.8L671.5,238.2L672.3,240.5L673.1,237.1L674.0,231.0L674.8,227.8L675.6,224.7L676.4,228.8L677.1,231.6L677.9,235.0L679.3,247.0L680.7,258.3L681.6,259.6L682.5,261.0L683.5,256.1L684.5,253.0L685.4,248.4L686.3,246.0L687.6,254.0L689.0,261.0L690.0,261.8L690.9,259.9L691.9,259.2L693.0,270.0L693.8,281.6L695.0,287.0L695.8,289.1L696.5,291.0L697.2,289.1L698.0,287.0L699.0,283.5L700.7,294.7L701.5,298.1L702.2,298.7L703.0,302.0L703.8,301.6L704.7,304.4L705.5,304.0L706.3,304.5L707.0,305.8L707.8,306.0L708.7,309.0L709.6,310.0L710.6,315.0L712.0,308.0L713.4,302.0L714.5,303.0L715.2,307.3L716.0,309.0L717.3,309.5L718.2,309.8L719.0,306.2L719.9,306.8L720.8,301.0L721.5,288.0L721.8,280.7L722.7,279.4L723.6,278.8L725.0,284.0L726.4,289.0L727.3,289.2L728.3,288.2L729.2,286.3L730.0,282.6L730.7,280.2L731.5,278.8L732.2,280.1L733.0,283.0L734.3,286.3L735.5,277.0L736.7,266.7L738.0,250.8L738.9,252.1L739.7,256.0L740.5,257.1L741.4,259.2L742.3,261.7L743.3,262.4L744.2,263.9L745.1,266.3L746.0,269.0L747.0,270.2L747.9,274.0L748.8,274.7L749.8,277.6L750.7,277.0L751.6,276.6L752.5,275.0L753.5,273.5L754.4,272.3L755.5,269.6L756.5,267.0L757.4,266.0L758.2,263.0L759.1,263.4L760.0,262.2L760.8,258.3L761.7,257.2L762.5,253.9L764.0,243.0L765.2,235.2L766.0,237.2L766.8,240.0L767.5,241.3L768.3,242.5L769.4,237.9L770.5,235.0L771.5,231.6L772.4,229.0L773.5,234.0L774.5,239.4L775.5,243.0L776.6,247.7L777.4,246.5L778.2,244.6L778.9,244.4L779.7,244.6L780.8,250.0L781.8,254.9L782.8,251.4L783.8,250.8L784.8,253.9L785.9,259.0L787.0,259.2L788.0,258.0L789.0,258.3L790.0,260.0L790.8,255.8L791.5,252.8L792.2,254.1L793.0,257.0L794.2,261.0L795.6,262.2L797.0,250.0L798.3,240.4L799.3,246.1L800.4,249.7L801.2,247.0L802.0,247.0L802.8,247.8L803.5,247.7L804.5,242.6L805.6,235.2L807.3,222.8L809.3,208.3L810.0,208.9L810.8,211.4L812.2,217.6L813.9,205.2L814.3,377.0L814.3,377.0Z" fill="#e0bf32" fill-opacity="0.55"/>
<path d="M270.0,377.0L271.0,375.6L272.0,374.0L272.8,373.8L273.5,373.1L274.2,372.2L275.0,372.0L275.8,371.6L276.5,371.3L277.2,370.3L278.0,369.5L278.8,369.4L279.6,370.9L280.4,371.5L281.2,371.3L282.0,372.0L282.8,371.4L283.6,371.2L284.4,371.4L285.2,371.6L286.0,371.0L286.8,371.9L287.5,372.9L288.2,373.0L289.0,374.0L289.8,376.9L290.5,380.0L292.0,390.0L292.8,394.4L293.6,397.6L295.0,392.0L295.8,388.3L296.5,384.0L297.7,378.0L298.5,377.0L299.2,376.1L300.0,375.0L300.8,375.1L301.5,375.2L302.2,375.7L303.0,376.0L304.0,380.1L305.0,385.0L305.8,381.6L306.5,378.0L307.3,376.6L308.2,375.3L309.0,374.0L309.8,374.6L310.5,374.8L311.2,375.5L312.0,376.0L313.0,377.7L314.0,380.0L315.4,388.0L316.0,375.0L316.5,362.3L317.4,363.4L318.2,362.8L319.1,363.9L319.9,362.0L320.8,363.4L321.6,363.3L322.5,363.5L323.3,362.3L324.1,361.4L325.0,362.0L325.8,361.0L326.6,360.8L327.4,362.1L328.2,360.4L329.0,361.2L329.8,361.4L330.5,359.9L331.2,359.7L332.0,359.0L332.8,358.7L333.5,358.2L334.2,357.9L335.0,357.0L335.8,356.9L336.5,355.7L337.2,356.6L338.0,355.5L338.8,354.1L339.6,354.9L340.5,354.5L341.3,353.0L342.1,355.4L343.0,356.0L343.8,356.4L344.7,358.8L345.5,359.0L346.5,361.7L347.5,362.0L348.6,363.6L349.6,365.4L350.5,365.1L351.3,365.7L352.1,366.7L353.0,366.0L354.0,365.5L354.9,365.4L355.9,366.4L356.9,364.3L358.0,362.3L359.0,363.5L360.0,364.0L360.9,361.3L361.9,356.9L362.8,353.9L363.7,357.5L364.7,357.5L365.6,360.4L366.4,358.3L367.2,353.5L368.0,352.0L368.8,347.4L369.5,344.6L370.3,342.7L372.0,353.9L372.8,349.9L373.7,348.6L374.5,346.0L375.3,344.1L376.0,340.9L376.8,339.9L377.7,340.8L378.6,338.5L379.6,337.4L380.5,338.0L381.3,336.0L382.2,336.8L383.0,335.0L384.1,334.6L385.2,331.5L386.0,331.6L386.7,332.3L387.5,335.0L388.3,337.1L389.2,336.5L390.0,338.5L390.9,339.9L391.8,338.2L392.7,338.6L393.6,338.0L394.5,336.3L395.3,336.5L396.1,334.1L397.0,333.0L397.8,331.4L398.5,332.3L399.2,328.7L400.0,329.0L401.0,330.0L402.0,329.6L402.9,325.0L403.9,323.7L404.8,320.0L405.7,319.3L406.5,321.2L407.2,324.9L408.0,326.0L408.8,322.6L409.5,322.0L410.0,293.0L411.0,280.0L411.8,276.6L412.6,272.8L413.6,274.1L414.5,276.0L415.2,276.8L416.0,275.0L417.9,287.0L419.3,280.0L420.7,276.0L422.5,288.0L423.3,287.8L424.2,285.1L425.0,283.0L425.8,282.5L426.5,283.0L427.2,283.4L428.0,284.5L428.8,286.1L429.7,287.3L430.5,290.0L431.3,290.7L432.0,294.0L432.8,294.8L433.7,293.3L434.6,290.3L435.5,289.0L436.5,289.4L437.4,285.8L438.4,285.5L439.2,283.5L440.0,281.0L441.0,280.8L442.0,282.7L442.8,285.0L443.7,286.1L444.5,286.0L445.3,284.2L446.0,284.6L446.8,282.7L447.7,285.8L448.7,286.2L449.6,289.0L450.6,289.0L451.5,290.0L453.4,304.0L454.3,302.1L455.1,301.6L456.0,298.5L457.0,306.0L458.0,299.8L459.0,295.7L459.9,297.9L460.9,299.1L461.8,300.4L462.7,297.1L463.6,294.4L464.5,291.0L465.5,289.1L466.4,283.9L467.4,281.7L468.3,284.8L469.1,285.0L470.0,287.3L470.8,287.3L471.5,286.6L472.2,283.5L473.0,283.6L473.9,283.2L474.9,282.1L475.8,279.0L476.6,276.9L477.4,274.5L478.2,273.3L479.0,273.0L479.8,273.7L480.6,269.7L481.5,271.8L482.3,269.6L483.1,269.7L483.9,272.8L484.7,273.3L485.8,262.0L486.8,243.5L487.6,262.0L488.8,282.7L489.8,284.1L490.7,288.0L491.6,289.4L492.6,293.0L493.6,284.0L494.2,279.9L494.8,294.8L495.9,294.0L497.0,292.0L498.0,291.6L499.0,293.9L500.0,294.9L501.0,297.0L501.9,299.6L502.8,299.5L503.7,298.6L504.7,297.6L505.6,294.8L506.6,299.9L507.5,302.0L508.4,305.3L509.4,311.6L510.3,309.8L511.1,310.7L512.0,308.8L513.0,306.0L514.0,302.0L515.0,298.8L516.0,298.5L516.9,300.1L517.8,300.9L518.7,303.2L519.6,305.0L520.6,301.4L521.5,298.8L522.5,298.0L523.4,297.9L524.3,294.1L525.2,293.0L526.0,295.9L526.7,295.1L527.5,298.0L528.3,300.0L529.1,300.8L529.9,304.0L531.5,315.0L532.7,324.7L533.6,326.3L534.5,328.4L535.4,328.6L536.4,331.4L537.3,332.0L538.4,332.1L539.5,334.5L540.2,334.5L541.0,333.0L542.0,330.0L543.5,318.0L544.4,312.5L545.3,313.0L546.1,312.3L547.0,314.0L547.9,313.9L548.7,314.6L549.5,316.3L550.4,315.3L551.2,314.6L551.9,314.0L552.7,316.1L553.5,315.7L554.2,315.0L555.0,314.0L555.8,313.3L556.6,313.1L557.4,313.4L558.1,312.9L558.9,312.9L559.7,314.4L560.5,313.0L561.2,311.2L562.0,310.0L562.8,309.2L563.6,307.6L564.4,307.0L565.5,307.4L566.5,311.0L567.3,312.7L568.2,313.8L569.0,314.4L569.8,314.7L570.5,314.9L571.3,315.5L572.0,316.7L572.8,315.3L573.7,314.3L574.7,311.7L575.6,308.8L576.5,310.6L577.5,313.0L578.4,314.5L579.3,317.2L580.2,316.2L581.1,317.2L582.0,315.0L583.0,313.9L584.0,313.5L584.8,309.4L585.5,306.0L586.8,296.7L588.0,280.0L589.2,267.7L590.1,270.7L591.0,274.3L592.0,269.9L593.0,267.7L593.8,270.2L594.5,269.5L595.2,269.4L596.0,272.4L596.8,276.5L597.5,280.0L598.2,285.0L599.0,287.3L599.9,285.3L600.9,285.2L601.8,283.6L603.0,292.0L603.8,295.8L604.6,300.4L605.4,298.8L606.2,297.8L607.0,298.0L608.0,296.6L609.0,297.6L609.8,300.0L610.7,301.1L611.5,301.5L612.3,303.6L613.1,301.7L613.9,304.0L614.7,304.1L615.5,302.4L616.2,303.0L617.0,302.0L617.8,301.6L618.7,300.3L619.5,300.4L620.5,299.2L621.5,295.0L622.2,290.9L623.0,290.0L624.0,296.0L625.0,300.4L625.8,301.9L626.5,301.2L627.2,301.9L628.0,302.0L628.9,304.2L629.8,302.5L630.7,304.0L631.6,305.4L632.6,306.8L633.5,307.0L634.4,307.5L635.4,309.5L636.3,309.7L637.4,311.0L638.5,313.0L639.7,317.2L640.5,327.0L641.3,318.0L641.9,306.0L643.3,294.0L644.7,285.5L645.6,283.3L646.5,281.0L647.5,279.9L648.4,278.0L650.3,290.0L651.7,285.0L653.0,281.7L654.2,270.0L654.7,200.0L655.5,85.6L656.5,110.0L657.8,150.0L658.6,185.0L659.5,194.0L660.2,195.8L661.0,196.5L661.8,196.3L662.5,197.6L663.3,197.6L664.5,208.0L665.7,224.0L667.0,244.3L667.8,241.8L668.5,239.0L669.2,236.6L670.0,235.9L670.8,237.8L671.5,238.2L672.3,240.5L673.1,237.1L674.0,231.0L674.8,227.8L675.6,224.7L676.4,228.8L677.1,231.6L677.9,235.0L679.3,247.0L680.7,258.3L681.6,259.6L682.5,261.0L683.5,256.1L684.5,253.0L685.4,248.4L686.3,246.0L687.6,254.0L689.0,261.0L690.0,261.8L690.9,259.9L691.9,259.2L693.0,270.0L693.8,281.6L695.0,287.0L695.8,289.1L696.5,291.0L697.2,289.1L698.0,287.0L699.0,283.5L700.7,294.7L701.5,298.1L702.2,298.7L703.0,302.0L703.8,301.6L704.7,304.4L705.5,304.0L706.3,304.5L707.0,305.8L707.8,306.0L708.7,309.0L709.6,310.0L710.6,315.0L712.0,308.0L713.4,302.0L714.5,303.0L715.2,307.3L716.0,309.0L717.3,309.5L718.2,309.8L719.0,306.2L719.9,306.8L720.8,301.0L721.5,288.0L721.8,280.7L722.7,279.4L723.6,278.8L725.0,284.0L726.4,289.0L727.3,289.2L728.3,288.2L729.2,286.3L730.0,282.6L730.7,280.2L731.5,278.8L732.2,280.1L733.0,283.0L734.3,286.3L735.5,277.0L736.7,266.7L738.0,250.8L738.9,252.1L739.7,256.0L740.5,257.1L741.4,259.2L742.3,261.7L743.3,262.4L744.2,263.9L745.1,266.3L746.0,269.0L747.0,270.2L747.9,274.0L748.8,274.7L749.8,277.6L750.7,277.0L751.6,276.6L752.5,275.0L753.5,273.5L754.4,272.3L755.5,269.6L756.5,267.0L757.4,266.0L758.2,263.0L759.1,263.4L760.0,262.2L760.8,258.3L761.7,257.2L762.5,253.9L764.0,243.0L765.2,235.2L766.0,237.2L766.8,240.0L767.5,241.3L768.3,242.5L769.4,237.9L770.5,235.0L771.5,231.6L772.4,229.0L773.5,234.0L774.5,239.4L775.5,243.0L776.6,247.7L777.4,246.5L778.2,244.6L778.9,244.4L779.7,244.6L780.8,250.0L781.8,254.9L782.8,251.4L783.8,250.8L784.8,253.9L785.9,259.0L787.0,259.2L788.0,258.0L789.0,258.3L790.0,260.0L790.8,255.8L791.5,252.8L792.2,254.1L793.0,257.0L794.2,261.0L795.6,262.2L797.0,250.0L798.3,240.4L799.3,246.1L800.4,249.7L801.2,247.0L802.0,247.0L802.8,247.8L803.5,247.7L804.5,242.6L805.6,235.2L807.3,222.8L809.3,208.3L810.0,208.9L810.8,211.4L812.2,217.6L813.9,205.2L814.3,377.0" fill="none" stroke="#e0bf32" stroke-opacity="0.85" stroke-width="0.8" stroke-linejoin="round"/>
</g>
<line x1="28.5" y1="70.5" x2="28.5" y2="437.5" stroke="#8f8bdc" stroke-width="1.3"/>
<line x1="34" y1="438.5" x2="822" y2="438.5" stroke="#dcdce2" stroke-width="1"/>
<line x1="826.5" y1="70.5" x2="826.5" y2="437.5" stroke="#dcdce2" stroke-width="1"/>
<g stroke="#ececf0" stroke-width="1"><line x1="59.8" y1="438.5" x2="59.8" y2="443" /><line x1="136.7" y1="438.5" x2="136.7" y2="443" /><line x1="213.6" y1="438.5" x2="213.6" y2="443" /><line x1="289.3" y1="438.5" x2="289.3" y2="443" /><line x1="366.2" y1="438.5" x2="366.2" y2="443" /><line x1="442.5" y1="438.5" x2="442.5" y2="443" /><line x1="519.6" y1="438.5" x2="519.6" y2="443" /><line x1="596.5" y1="438.5" x2="596.5" y2="443" /><line x1="673.4" y1="438.5" x2="673.4" y2="443" /><line x1="748.9" y1="438.5" x2="748.9" y2="443" /></g>
<g class="xl">
<text x="59.8" y="454.3" text-anchor="middle" textLength="38.1" lengthAdjust="spacingAndGlyphs">2022 May</text>
<text x="136.7" y="454.3" text-anchor="middle" textLength="35.6" lengthAdjust="spacingAndGlyphs">2022 Sep</text>
<text x="213.6" y="454.3" text-anchor="middle" textLength="33.2" lengthAdjust="spacingAndGlyphs">2023 Jan</text>
<text x="289.3" y="454.3" text-anchor="middle" textLength="38.1" lengthAdjust="spacingAndGlyphs">2023 May</text>
<text x="366.2" y="454.3" text-anchor="middle" textLength="35.6" lengthAdjust="spacingAndGlyphs">2023 Sep</text>
<text x="442.5" y="454.3" text-anchor="middle" textLength="33.2" lengthAdjust="spacingAndGlyphs">2024 Jan</text>
<text x="519.6" y="454.3" text-anchor="middle" textLength="38.1" lengthAdjust="spacingAndGlyphs">2024 May</text>
<text x="596.5" y="454.3" text-anchor="middle" textLength="35.6" lengthAdjust="spacingAndGlyphs">2024 Sep</text>
<text x="673.4" y="454.3" text-anchor="middle" textLength="33.2" lengthAdjust="spacingAndGlyphs">2025 Jan</text>
<text x="748.9" y="454.3" text-anchor="middle" textLength="38.1" lengthAdjust="spacingAndGlyphs">2025 May</text>
</g>
<g class="yl">
<text x="20.5" y="100.8" text-anchor="end">0.4</text>
<text x="20.5" y="185.8" text-anchor="end">0.3</text>
<text x="20.5" y="270.8" text-anchor="end">0.2</text>
<text x="20.5" y="355.8" text-anchor="end">0.1</text>
<text x="20.5" y="440.8" text-anchor="end">0</text>
<text x="834.5" y="146.8">240</text>
<text x="834.5" y="224.8">160</text>
<text x="834.5" y="302.8">80</text>
<text x="834.5" y="380.8">0</text>
</g>
<text class="copy" x="737.5" y="469.7" textLength="109.5" lengthAdjust="spacingAndGlyphs">© CryptoQuant. All rights reserved</text>
</svg>
</body></html>
